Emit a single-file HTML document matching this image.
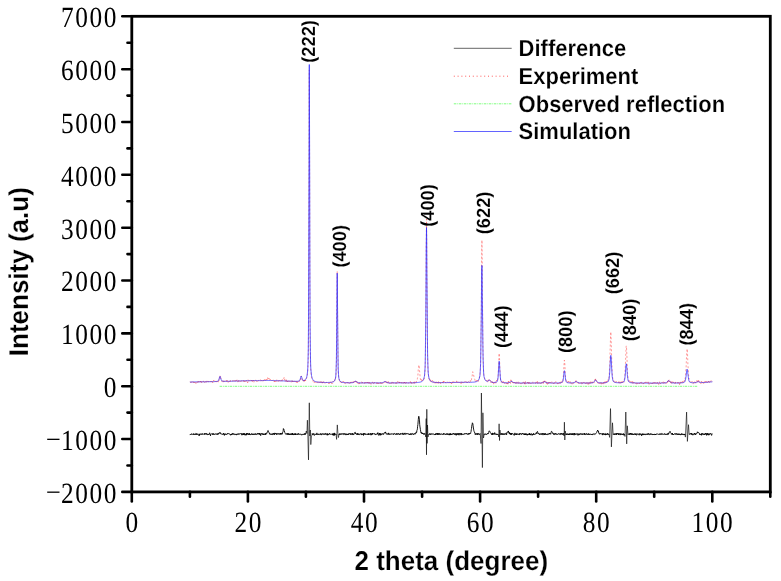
<!DOCTYPE html>
<html><head><meta charset="utf-8"><style>
html,body{margin:0;padding:0;background:#fff;}
svg{display:block;will-change:transform;text-rendering:geometricPrecision;}
.ser{font-family:"Liberation Serif",serif;font-size:29.3px;letter-spacing:1.8px;fill:#000;}
.sb{font-family:"Liberation Sans",sans-serif;font-weight:bold;fill:#000;}
</style></head><body>
<svg width="781" height="581" viewBox="0 0 781 581">
<rect width="781" height="581" fill="#fff"/>
<line x1="219.6" y1="386.3" x2="698" y2="386.3" stroke="#00ff00" stroke-width="1" stroke-dasharray="2.6 0.9 0.8 0.7" opacity="0.5"/>
<g fill="none" stroke="#000" stroke-width="0.9" stroke-linejoin="round"><polyline points="189.9,434.7 190.1,434.6 190.3,434.1 190.5,434.3 190.8,434.7 191.0,434.0 191.2,434.3 191.5,433.7 191.7,434.2 191.9,434.3 192.2,434.1 192.4,434.3 192.6,434.5 192.9,434.4 193.1,433.8 193.3,433.9 193.6,433.6 193.8,435.0 194.0,434.4 194.3,434.4 194.5,434.1 194.7,434.4 195.0,434.4 195.2,433.8 195.4,434.1 195.7,434.7 195.9,433.5 196.1,433.7 196.4,434.4 196.6,433.8 196.8,434.5 197.0,433.6 197.3,434.3 197.5,434.6 197.7,434.4 198.0,434.5 198.2,434.1 198.4,434.1 198.7,434.2 198.9,434.4 199.1,435.9 199.4,434.1 199.6,435.1 199.8,434.1 200.1,433.6 200.3,434.0 200.5,434.4 200.8,434.3 201.0,434.2 201.2,434.4 201.5,434.5 201.7,434.6 201.9,433.6 202.2,434.2 202.4,433.7 202.6,434.3 202.9,434.1 203.1,434.3 203.3,434.0 203.5,433.8 203.8,434.1 204.0,434.5 204.2,434.5 204.5,433.4 204.7,434.3 204.9,434.3 205.2,433.5 205.4,433.7 205.6,433.9 205.9,434.4 206.1,433.1 206.3,434.0 206.6,433.9 206.8,434.3 207.0,434.8 207.3,434.8 207.5,434.0 207.7,434.0 208.0,434.3 208.2,434.7 208.4,434.9 208.7,434.3 208.9,434.9 209.1,433.7 209.4,433.6 209.6,432.8 209.8,433.8 210.1,434.5 210.3,434.6 210.5,435.8 210.7,434.5 211.0,434.3 211.2,433.7 211.4,433.9 211.7,433.9 211.9,434.1 212.1,433.9 212.4,433.5 212.6,434.7 212.8,434.4 213.1,434.8 213.3,433.4 213.5,433.5 213.8,433.8 214.0,434.7 214.2,434.1 214.5,434.3 214.7,434.1 214.9,434.2 215.2,433.9 215.4,434.3 215.6,433.7 215.9,434.0 216.1,434.3 216.3,434.2 216.6,434.3 216.8,433.7 217.0,434.2 217.2,433.9 217.5,434.2 217.7,434.7 217.9,433.5 218.2,434.3 218.4,433.3 218.6,433.2 218.9,433.9 219.1,433.3 219.3,432.8 219.6,432.9 219.8,433.1 220.0,432.4 220.0,432.9 220.3,432.9 220.5,433.6 220.7,433.5 221.0,434.1 221.2,433.9 221.4,433.7 221.7,434.0 221.9,434.3 222.1,434.6 222.4,434.0 222.6,433.9 222.8,434.2 223.1,434.5 223.3,433.9 223.5,433.0 223.8,434.3 224.0,434.0 224.2,434.0 224.4,435.4 224.7,434.1 224.9,434.5 225.1,433.5 225.4,434.3 225.6,434.5 225.8,434.3 226.1,434.1 226.3,434.4 226.5,434.2 226.8,434.8 227.0,434.3 227.2,433.8 227.5,433.2 227.7,433.8 227.9,434.0 228.2,433.6 228.4,433.7 228.6,433.4 228.9,433.7 229.1,434.2 229.3,434.0 229.6,434.1 229.8,434.0 230.0,434.1 230.3,434.5 230.5,435.2 230.7,434.5 230.9,435.1 231.2,434.1 231.4,434.2 231.6,435.0 231.9,433.8 232.1,433.8 232.3,434.1 232.6,433.4 232.8,433.3 233.0,434.7 233.3,433.7 233.5,434.0 233.7,434.0 234.0,433.7 234.2,434.5 234.4,434.5 234.7,434.6 234.9,434.5 235.1,434.2 235.4,434.9 235.6,434.7 235.8,433.9 236.1,434.2 236.3,434.0 236.5,435.1 236.8,434.5 237.0,434.4 237.2,434.2 237.5,434.5 237.7,433.7 237.9,434.2 238.1,434.2 238.4,434.2 238.6,433.8 238.8,434.4 239.1,433.6 239.3,434.0 239.5,434.1 239.8,434.2 240.0,433.9 240.2,433.7 240.5,433.7 240.7,434.0 240.9,433.8 241.2,434.1 241.4,433.6 241.6,434.2 241.9,435.2 242.1,433.5 242.3,434.1 242.6,434.7 242.8,434.3 243.0,434.6 243.3,433.2 243.5,433.9 243.7,434.9 244.0,433.9 244.2,434.4 244.4,433.3 244.6,434.7 244.9,435.2 245.1,434.1 245.3,434.3 245.6,434.4 245.8,435.2 246.0,434.0 246.3,433.4 246.5,435.1 246.7,433.6 247.0,434.4 247.2,433.1 247.4,434.0 247.7,434.3 247.9,433.6 248.1,433.9 248.4,434.5 248.6,433.8 248.8,434.4 249.1,435.0 249.3,433.2 249.5,434.3 249.8,434.5 250.0,434.0 250.2,434.9 250.5,434.8 250.7,434.4 250.9,434.4 251.2,434.1 251.4,433.6 251.6,434.4 251.8,433.9 252.1,433.9 252.3,434.7 252.5,434.1 252.8,434.6 253.0,433.7 253.2,434.0 253.5,434.2 253.7,434.8 253.9,434.1 254.2,434.5 254.4,433.8 254.6,434.2 254.9,434.6 255.1,433.7 255.3,433.8 255.6,434.4 255.8,433.6 256.0,434.3 256.3,434.3 256.5,434.1 256.7,434.5 257.0,434.4 257.2,434.2 257.4,433.4 257.7,433.5 257.9,434.3 258.1,433.4 258.3,434.2 258.6,434.0 258.8,433.7 259.0,434.0 259.3,433.0 259.5,434.0 259.7,434.7 260.0,433.5 260.2,434.4 260.4,434.3 260.7,435.6 260.9,433.7 261.1,433.8 261.4,433.8 261.6,433.7 261.8,433.3 262.1,434.2 262.3,433.7 262.5,434.5 262.8,434.3 263.0,433.6 263.2,433.9 263.5,434.8 263.7,433.9 263.9,434.2 264.2,434.5 264.4,433.9 264.6,434.3 264.9,434.8 265.1,434.6 265.3,433.2 265.5,434.7 265.8,433.8 266.0,433.6 266.2,433.5 266.5,434.2 266.7,433.5 266.9,432.9 267.2,432.1 267.4,432.2 267.6,431.9 267.9,430.6 268.1,430.5 268.3,431.2 268.6,432.1 268.8,432.2 269.0,432.8 269.3,432.9 269.5,434.1 269.7,433.7 270.0,433.9 270.2,434.5 270.4,433.9 270.7,434.0 270.9,434.2 271.1,433.9 271.4,434.7 271.6,434.1 271.8,433.9 272.0,434.0 272.3,433.6 272.5,434.7 272.7,434.8 273.0,434.0 273.2,433.9 273.4,433.1 273.7,433.8 273.9,434.5 274.1,433.7 274.4,434.5 274.6,434.8 274.8,432.9 275.1,434.0 275.3,433.8 275.5,433.9 275.8,433.3 276.0,434.0 276.2,433.6 276.5,434.6 276.7,434.8 276.9,433.4 277.2,433.4 277.4,433.9 277.6,434.0 277.9,434.0 278.1,434.4 278.3,433.4 278.6,433.8 278.8,433.9 279.0,433.9 279.2,433.6 279.5,433.8 279.7,433.7 279.9,434.6 280.2,433.8 280.4,433.0 280.6,434.3 280.9,434.0 281.1,433.5 281.3,433.4 281.6,433.5 281.8,434.5 282.0,433.3 282.3,433.9 282.5,433.3 282.7,432.2 283.0,431.9 283.2,430.5 283.4,428.6 283.7,429.2 283.9,429.2 284.1,430.4 284.4,431.0 284.6,432.1 284.8,432.5 285.1,433.4 285.3,433.6 285.5,433.6 285.7,434.2 286.0,434.5 286.2,434.5 286.4,433.7 286.7,433.9 286.9,433.5 287.1,433.5 287.4,434.2 287.6,433.7 287.8,434.8 288.1,433.0 288.3,433.5 288.5,434.2 288.8,434.7 289.0,433.9 289.2,435.0 289.5,434.5 289.7,433.8 289.9,434.1 290.2,434.4 290.4,433.7 290.6,434.6 290.9,434.0 291.1,434.4 291.3,434.5 291.6,433.9 291.8,434.6 292.0,433.2 292.3,434.4 292.5,433.2 292.7,434.7 292.9,433.9 293.2,434.7 293.4,434.8 293.6,434.1 293.9,433.8 294.1,434.8 294.3,433.6 294.6,434.5 294.8,434.1 295.0,434.0 295.3,433.9 295.5,435.0 295.7,433.4 296.0,433.9 296.2,434.4 296.4,434.7 296.7,435.0 296.9,434.8 297.1,433.9 297.4,434.3 297.6,434.7 297.8,434.4 298.1,433.4 298.3,434.3 298.5,434.4 298.8,433.5 299.0,433.9 299.2,434.1 299.4,434.5 299.7,434.9 299.9,434.7 300.1,434.4 300.4,434.3 300.6,434.0 300.8,433.9 301.1,434.1 301.2,434.1 301.3,434.6 301.5,435.2 301.8,434.4 302.0,434.6 302.2,434.5 302.5,434.3 302.7,434.8 302.9,434.7 303.2,434.2 303.4,434.1 303.6,434.5 303.9,433.9 304.1,434.3 304.3,434.7 304.6,434.2 304.8,433.3 305.0,434.5 305.3,433.6 305.5,433.5"/><polyline points="312.2,434.5 312.2,433.7 312.5,434.5 312.7,434.2 312.9,433.7 313.1,434.5 313.4,434.5 313.6,433.8 313.8,433.4 314.1,434.7 314.3,435.4 314.5,434.9 314.8,434.7 315.0,434.2 315.2,433.9 315.5,434.2 315.7,434.5 315.9,434.1 316.2,434.6 316.4,434.2 316.6,434.5 316.9,432.9 317.1,433.8 317.3,434.6 317.6,434.6 317.8,434.4 318.0,435.0 318.3,434.5 318.5,434.5 318.7,433.8 319.0,434.4 319.2,434.6 319.4,434.8 319.6,434.7 319.9,434.2 320.1,434.3 320.3,433.6 320.6,434.5 320.8,433.7 321.0,434.1 321.3,434.2 321.5,435.1 321.7,434.8 322.0,433.8 322.2,433.5 322.4,434.1 322.7,433.8 322.9,434.4 323.1,434.4 323.4,434.5 323.6,433.7 323.8,434.0 324.1,434.3 324.3,434.3 324.5,433.9 324.8,434.0 325.0,434.6 325.2,433.4 325.5,434.1 325.7,434.2 325.9,433.5 326.2,433.7 326.4,434.2 326.6,433.9 326.8,434.7 327.1,434.5 327.3,435.2 327.5,433.6 327.8,435.1 328.0,433.9 328.2,434.6 328.5,434.6 328.7,434.3 328.9,434.0 329.2,433.9 329.4,433.3 329.6,434.0 329.9,433.8 330.1,434.5 330.3,433.8 330.6,434.1 330.8,434.4 331.0,434.2 331.3,434.2 331.5,434.1 331.7,434.0 332.0,434.4 332.2,434.5 332.4,433.8 332.7,435.0 332.9,434.5 333.1,433.4 333.3,435.5 333.6,434.5 333.8,433.8 334.0,435.0 334.3,432.9 334.5,435.4 334.7,433.5 335.0,433.4 335.2,433.7 335.4,434.3 335.7,434.0 335.9,434.6"/><polyline points="339.0,434.6 339.2,434.1 339.4,434.5 339.6,433.7 339.9,434.5 340.1,433.7 340.3,434.2 340.5,433.8 340.8,434.4 341.0,434.4 341.2,434.7 341.5,433.9 341.7,433.7 341.9,433.2 342.2,433.6 342.4,434.1 342.6,434.3 342.9,434.0 343.1,434.2 343.3,433.5 343.6,433.7 343.8,434.6 344.0,434.5 344.3,433.5 344.5,434.0 344.7,434.3 345.0,433.6 345.2,434.4 345.4,434.3 345.7,434.4 345.9,435.1 346.1,433.8 346.4,434.7 346.6,434.4 346.8,434.5 347.0,433.8 347.3,434.2 347.5,434.2 347.7,435.0 348.0,434.2 348.2,434.9 348.4,434.0 348.7,434.0 348.9,434.2 349.1,433.2 349.4,433.9 349.6,433.9 349.8,434.1 350.1,434.2 350.3,433.7 350.5,433.6 350.8,434.8 351.0,433.6 351.2,433.9 351.5,433.7 351.7,433.9 351.9,434.7 352.2,434.7 352.4,433.2 352.6,433.9 352.9,434.7 353.1,433.8 353.3,434.1 353.6,434.7 353.8,434.8 354.0,434.2 354.2,433.1 354.5,432.9 354.7,432.7 354.9,432.3 355.2,432.2 355.4,433.7 355.5,433.0 355.6,433.4 355.9,433.9 356.1,433.8 356.3,433.8 356.6,434.0 356.8,434.7 357.0,434.3 357.3,433.1 357.5,434.6 357.7,434.9 358.0,434.0 358.2,433.8 358.4,433.9 358.7,434.7 358.9,433.7 359.1,434.5 359.4,434.7 359.6,434.4 359.8,434.2 360.1,433.8 360.3,433.9 360.5,434.2 360.7,433.7 361.0,434.1 361.2,433.7 361.4,434.8 361.7,434.9 361.9,433.8 362.1,434.8 362.4,434.3 362.6,434.2 362.8,434.4 363.1,434.4 363.3,433.5 363.5,435.4 363.8,433.7 364.0,433.1 364.2,434.2 364.5,434.2 364.7,433.8 364.9,433.3 365.2,434.7 365.4,434.1 365.6,434.3 365.9,433.9 366.1,434.1 366.3,433.9 366.6,434.4 366.8,434.1 367.0,434.5 367.3,434.5 367.5,434.2 367.7,434.2 367.9,434.7 368.2,433.4 368.4,434.2 368.6,434.8 368.9,433.6 369.1,434.5 369.3,433.9 369.6,434.2 369.8,434.0 370.0,434.1 370.3,434.4 370.5,434.1 370.7,433.2 371.0,435.2 371.2,434.1 371.4,434.0 371.7,434.7 371.9,434.8 372.1,433.1 372.4,434.3 372.6,433.2 372.8,433.9 373.1,434.1 373.3,433.9 373.5,433.9 373.8,433.6 374.0,434.0 374.2,434.1 374.4,434.1 374.7,433.5 374.9,433.8 375.1,434.6 375.4,434.5 375.6,434.0 375.8,434.5 376.1,434.3 376.3,434.6 376.5,434.3 376.8,434.0 377.0,433.7 377.2,434.2 377.5,433.2 377.7,434.2 377.9,432.6 378.2,433.7 378.4,433.9 378.6,434.4 378.9,435.5 379.1,434.2 379.3,434.1 379.6,433.2 379.8,434.8 380.0,433.2 380.3,434.3 380.5,433.8 380.7,435.3 381.0,434.1 381.2,434.3 381.4,433.8 381.6,434.1 381.9,434.7 382.1,433.6 382.3,433.8 382.6,433.8 382.8,433.6 383.0,433.5 383.3,434.0 383.5,434.5 383.7,434.4 384.0,432.9 384.2,432.9 384.4,432.9 384.7,432.9 384.9,432.5 385.0,432.5 385.1,432.7 385.4,433.0 385.6,431.9 385.8,433.2 386.1,433.8 386.3,434.3 386.5,434.2 386.8,433.6 387.0,433.6 387.2,434.1 387.5,434.0 387.7,434.2 387.9,434.6 388.1,433.5 388.4,433.9 388.6,432.9 388.8,434.5 389.1,434.2 389.3,433.7 389.5,434.3 389.8,434.8 390.0,434.6 390.2,434.1 390.5,434.0 390.7,434.2 390.9,433.7 391.2,433.7 391.4,434.0 391.6,434.1 391.9,434.3 392.1,433.9 392.3,433.7 392.6,434.1 392.8,433.9 393.0,434.3 393.3,434.8 393.5,434.6 393.7,433.8 394.0,433.9 394.2,433.4 394.4,434.1 394.7,433.7 394.9,433.5 395.1,433.7 395.3,434.4 395.6,434.2 395.8,434.1 396.0,434.6 396.3,433.9 396.5,433.7 396.7,434.4 397.0,433.2 397.2,434.3 397.4,434.2 397.7,434.3 397.9,434.5 398.1,434.0 398.4,434.1 398.6,433.4 398.8,433.9 399.1,433.9 399.3,434.3 399.5,434.8 399.8,434.2 400.0,434.6 400.2,433.7 400.5,434.2 400.7,433.4 400.9,433.8 401.2,433.7 401.4,434.0 401.6,434.0 401.8,433.8 402.1,433.7 402.3,434.5 402.5,433.9 402.8,432.9 403.0,434.2 403.2,434.3 403.5,434.5 403.7,434.8 403.9,433.6 404.2,434.1 404.4,434.0 404.6,433.3 404.9,432.9 405.1,434.5 405.3,433.6 405.6,433.8 405.8,433.9 406.0,433.9 406.3,434.1 406.5,433.4 406.7,433.8 407.0,433.9 407.2,433.5 407.4,433.7 407.7,433.9 407.9,433.9 408.1,433.3 408.4,433.8 408.6,434.1 408.8,434.5 409.0,434.2 409.3,434.6 409.5,434.0 409.7,433.9 410.0,435.0 410.2,434.0 410.4,433.7 410.7,434.0 410.9,434.5 411.1,433.4 411.4,434.3 411.6,434.6 411.8,434.5 412.1,434.0 412.3,433.5 412.5,433.4 412.8,433.8 413.0,434.5 413.2,434.2 413.5,434.3 413.7,433.9 413.9,434.6 414.2,433.7 414.4,433.4 414.6,433.7 414.9,433.4 415.1,434.0 415.3,434.2 415.5,433.7 415.8,432.7 416.0,432.6 416.2,433.1 416.5,431.9 416.7,432.1 416.9,430.5 417.2,429.9 417.4,428.8 417.6,426.3 417.9,424.6 418.1,422.0 418.3,419.6 418.6,416.8 418.8,416.2 419.0,417.0 419.3,419.1 419.5,420.9 419.7,424.4 420.0,427.0 420.2,428.0 420.4,429.4 420.7,431.1 420.9,432.8 421.1,432.8 421.4,432.5 421.6,433.1 421.8,432.5 422.1,434.0 422.3,433.1 422.5,433.8 422.7,433.0 423.0,433.7 423.2,433.2 423.4,434.1 423.7,434.5 423.9,434.4 424.1,434.1 424.4,434.4 424.6,433.3 424.8,433.3 425.1,433.8"/><polyline points="428.6,434.5 428.8,434.5 429.0,434.2 429.2,434.4 429.5,434.3 429.7,433.8 429.9,433.3 430.2,434.9 430.4,434.1 430.6,434.1 430.9,434.2 431.1,434.2 431.3,434.3 431.6,433.6 431.8,434.3 432.0,434.2 432.3,434.1 432.5,434.1 432.7,434.2 433.0,433.7 433.2,434.1 433.4,434.0 433.7,434.2 433.9,434.6 434.1,434.5 434.4,434.6 434.6,434.0 434.8,434.5 435.1,434.6 435.3,434.0 435.5,433.9 435.7,435.0 436.0,433.3 436.2,434.1 436.4,434.2 436.7,433.6 436.9,434.1 437.1,434.4 437.4,433.1 437.6,434.7 437.8,434.2 438.1,433.7 438.3,434.7 438.5,434.2 438.8,434.0 439.0,433.0 439.2,434.6 439.5,434.2 439.7,433.8 439.9,434.1 440.2,434.7 440.4,434.0 440.6,434.1 440.9,433.9 441.1,433.6 441.3,433.7 441.6,434.0 441.8,434.0 442.0,434.7 442.3,434.2 442.5,434.0 442.7,434.3 442.9,434.1 443.2,434.5 443.4,433.4 443.6,433.1 443.9,434.3 444.1,434.0 444.3,434.3 444.6,433.6 444.8,433.9 445.0,434.1 445.3,434.3 445.5,434.1 445.7,434.6 446.0,433.8 446.2,434.5 446.4,433.9 446.7,434.1 446.9,433.6 447.1,434.2 447.4,433.7 447.6,434.6 447.8,433.9 448.1,434.3 448.3,434.1 448.5,434.1 448.8,433.7 449.0,435.1 449.2,434.0 449.4,434.9 449.7,433.6 449.9,435.1 450.1,434.6 450.4,435.0 450.6,433.4 450.8,434.8 451.1,434.1 451.3,434.4 451.5,435.0 451.8,434.3 452.0,433.8 452.2,434.2 452.5,433.7 452.7,434.3 452.9,434.2 453.2,434.3 453.4,434.0 453.6,433.2 453.9,434.0 454.1,434.1 454.3,434.4 454.6,434.5 454.8,433.5 455.0,434.7 455.3,434.6 455.5,434.2 455.7,434.4 456.0,433.2 456.2,435.3 456.4,434.0 456.6,433.8 456.9,434.7 457.1,434.5 457.3,433.9 457.6,433.4 457.8,434.6 458.0,434.9 458.3,433.7 458.5,433.4 458.7,434.3 459.0,435.2 459.2,433.4 459.4,434.2 459.7,433.6 459.9,434.2 460.1,434.3 460.4,434.3 460.6,433.4 460.8,433.4 461.1,435.1 461.3,434.6 461.5,433.3 461.8,434.3 462.0,434.8 462.2,434.1 462.5,434.2 462.7,434.2 462.9,434.3 463.1,434.3 463.4,434.3 463.6,433.9 463.8,434.5 464.1,434.2 464.3,434.2 464.5,433.5 464.8,433.9 465.0,434.1 465.2,433.8 465.5,433.9 465.7,433.5 465.9,433.8 466.2,433.2 466.4,433.4 466.6,434.0 466.9,434.2 467.1,433.6 467.3,433.7 467.6,434.0 467.8,434.6 468.0,434.8 468.3,433.7 468.5,433.5 468.7,433.4 469.0,434.4 469.2,433.2 469.4,433.9 469.7,433.3 469.9,433.2 470.1,433.6 470.3,433.2 470.6,433.5 470.8,432.3 471.0,431.8 471.3,429.6 471.5,428.4 471.7,426.3 472.0,424.9 472.2,424.0 472.4,422.8 472.7,423.4 472.9,424.0 473.1,425.7 473.4,428.0 473.6,429.1 473.8,430.4 474.1,431.6 474.3,431.7 474.5,431.9 474.8,433.2 475.0,433.5 475.2,434.5 475.5,433.6 475.7,433.9 475.9,434.7 476.2,433.6 476.4,433.5 476.6,434.2 476.8,434.1 477.1,434.4 477.3,433.6 477.5,434.7 477.8,434.1 478.0,433.1 478.2,434.0 478.5,433.8 478.7,434.1 478.9,434.6 479.2,434.1 479.4,433.9 479.6,434.5 479.9,433.9 480.1,433.5"/><polyline points="484.2,434.5 484.3,434.0 484.5,434.2 484.7,434.3 485.0,434.4 485.2,433.7 485.4,434.1 485.7,434.0 485.9,434.5 486.1,434.3 486.4,434.0 486.6,434.5 486.8,434.6 487.1,434.1 487.3,433.4 487.5,433.8 487.8,433.1 488.0,433.6 488.2,433.5 488.5,433.6 488.7,432.8 488.9,431.3 489.2,431.4 489.4,430.8 489.4,430.9 489.6,431.2 489.9,431.6 490.1,432.0 490.3,432.2 490.5,432.8 490.8,433.1 491.0,433.5 491.2,434.1 491.5,434.0 491.7,434.4 491.9,433.5 492.2,435.0 492.4,434.1 492.6,432.9 492.9,434.2 493.1,434.6 493.3,434.1 493.6,433.5 493.8,434.2 494.0,433.8 494.3,434.1 494.5,434.3 494.7,432.6 495.0,434.1 495.2,434.4 495.4,434.4 495.7,433.9 495.9,433.9 496.1,433.8 496.4,434.1 496.6,434.8 496.8,433.9 497.1,434.3 497.3,434.3 497.5,434.8 497.7,434.4 498.0,434.5 498.2,434.2"/><polyline points="500.5,434.5 500.5,434.3 500.8,433.7 501.0,434.4 501.2,434.1 501.5,434.5 501.7,433.2 501.9,433.7 502.2,433.6 502.4,434.8 502.6,434.6 502.9,433.6 503.1,434.2 503.3,434.2 503.6,434.0 503.8,434.7 504.0,433.7 504.2,434.1 504.5,433.9 504.7,434.4 504.9,433.8 505.2,434.4 505.4,433.6 505.6,433.4 505.9,433.5 506.1,433.6 506.3,433.4 506.6,434.8 506.8,432.8 507.0,433.0 507.3,432.3 507.5,432.0 507.7,432.1 508.0,431.4 508.2,431.0 508.4,431.0 508.7,432.5 508.9,433.1 509.1,432.4 509.4,433.9 509.6,432.7 509.8,433.8 510.1,434.3 510.3,433.5 510.5,433.2 510.8,434.7 511.0,433.3 511.2,434.2 511.4,433.4 511.5,434.3 511.7,434.8 511.9,433.9 512.1,433.7 512.4,433.1 512.6,433.3 512.8,433.8 513.1,434.2 513.3,434.4 513.5,434.3 513.8,434.5 514.0,434.3 514.2,435.4 514.5,434.1 514.7,434.2 514.9,432.9 515.2,433.8 515.4,434.4 515.6,433.9 515.9,434.7 516.1,434.4 516.3,435.0 516.6,433.5 516.8,433.9 517.0,434.7 517.3,434.2 517.5,433.7 517.7,433.9 517.9,434.0 518.2,434.6 518.4,434.5 518.6,434.1 518.9,433.7 519.1,434.6 519.3,434.7 519.6,433.6 519.8,434.6 520.0,433.6 520.3,434.0 520.5,433.7 520.7,433.3 521.0,433.8 521.2,433.8 521.4,434.6 521.7,434.5 521.9,433.9 522.1,433.4 522.4,433.5 522.6,433.1 522.8,434.0 523.1,434.1 523.3,433.7 523.5,434.2 523.8,434.2 524.0,434.7 524.2,433.7 524.5,434.7 524.7,433.9 524.9,434.8 525.1,433.6 525.4,434.7 525.6,433.8 525.8,434.9 526.1,434.4 526.3,433.6 526.5,434.5 526.8,434.1 527.0,434.4 527.2,435.3 527.5,434.0 527.7,434.0 527.9,434.7 528.2,433.9 528.4,434.5 528.6,434.6 528.9,434.2 529.1,434.5 529.3,433.1 529.6,434.9 529.8,433.8 530.0,433.7 530.3,435.1 530.5,435.0 530.7,433.9 531.0,434.4 531.2,434.0 531.4,433.6 531.6,434.3 531.9,434.6 532.1,435.4 532.3,434.0 532.6,434.6 532.8,434.0 533.0,434.0 533.3,434.8 533.5,433.3 533.7,433.6 534.0,433.7 534.2,434.6 534.4,434.3 534.7,434.3 534.9,434.2 535.1,434.5 535.4,433.7 535.6,433.7 535.8,433.5 536.1,433.7 536.3,432.6 536.5,432.7 536.8,433.7 537.0,432.3 537.2,431.8 537.5,431.4 537.7,432.3 537.9,432.6 538.1,433.3 538.4,433.0 538.6,433.8 538.8,434.0 539.1,434.2 539.3,433.7 539.5,434.3 539.8,434.8 540.0,433.8 540.2,434.4 540.5,433.9 540.7,433.9 540.9,433.5 541.2,433.6 541.4,434.4 541.6,434.2 541.9,434.7 542.1,433.3 542.3,433.9 542.6,433.5 542.8,434.3 543.0,435.1 543.3,433.4 543.5,434.1 543.7,434.1 544.0,434.1 544.2,433.8 544.4,433.9 544.6,434.9 544.7,433.6 544.9,434.4 545.1,434.4 545.3,433.3 545.6,433.7 545.8,434.3 546.0,435.0 546.3,434.1 546.5,433.9 546.7,434.2 547.0,434.7 547.2,434.5 547.4,434.7 547.7,434.0 547.9,433.7 548.1,433.6 548.4,434.4 548.6,434.0 548.8,433.8 549.1,434.3 549.3,434.1 549.5,433.0 549.8,433.9 550.0,433.5 550.2,434.0 550.5,433.7 550.7,434.3 550.9,433.2 551.2,432.2 551.4,431.3 551.6,431.4 551.8,431.5 552.1,431.8 552.3,432.5 552.5,432.7 552.8,432.7 553.0,433.7 553.2,433.1 553.5,434.2 553.7,434.7 553.9,434.4 554.2,434.8 554.4,434.7 554.6,433.5 554.9,434.2 555.1,434.0 555.3,433.5 555.6,433.5 555.8,434.4 556.0,433.5 556.3,433.9 556.5,434.1 556.7,433.9 557.0,434.8 557.2,434.5 557.4,434.2 557.7,433.9 557.9,434.3 558.1,434.2 558.4,433.7 558.6,433.5 558.8,433.8 559.0,433.6 559.3,434.3 559.5,434.3 559.7,434.0 560.0,434.3 560.2,434.4 560.4,433.4 560.7,434.3 560.9,434.6 561.1,433.9 561.4,433.3 561.6,434.1 561.8,433.6 562.1,434.4 562.3,434.4 562.5,434.5 562.8,434.2 563.0,433.3 563.2,434.7 563.5,433.4"/><polyline points="565.8,433.8 566.0,434.7 566.2,434.4 566.5,434.8 566.7,433.7 566.9,434.3 567.2,433.9 567.4,434.5 567.6,434.4 567.9,433.6 568.1,434.6 568.3,435.0 568.6,434.0 568.8,434.7 569.0,434.4 569.3,433.7 569.5,434.6 569.7,433.8 570.0,434.5 570.2,433.5 570.4,433.5 570.7,434.4 570.9,434.3 571.1,434.6 571.4,434.1 571.6,433.6 571.8,434.9 572.1,433.7 572.3,434.8 572.5,434.6 572.7,435.0 573.0,433.2 573.2,434.1 573.4,434.1 573.7,434.5 573.9,433.7 574.1,435.2 574.4,434.2 574.6,433.1 574.8,434.4 575.1,434.2 575.3,433.9 575.5,434.6 575.8,434.2 576.0,433.7 576.2,434.1 576.2,434.0 576.5,434.3 576.7,434.0 576.9,434.1 577.2,433.5 577.4,433.8 577.6,434.3 577.9,435.3 578.1,433.8 578.3,433.8 578.6,434.6 578.8,435.1 579.0,434.7 579.2,433.7 579.5,434.7 579.7,434.4 579.9,434.1 580.2,433.6 580.4,434.2 580.6,434.2 580.9,434.4 581.1,433.4 581.3,433.7 581.6,434.2 581.8,434.8 582.0,434.5 582.3,433.9 582.5,434.5 582.7,433.7 583.0,434.0 583.2,434.0 583.4,433.9 583.7,433.9 583.9,434.6 584.1,434.3 584.4,433.1 584.6,434.7 584.8,434.4 585.1,433.7 585.3,434.2 585.5,434.6 585.8,434.8 586.0,433.9 586.2,433.7 586.4,433.5 586.7,434.1 586.9,433.7 587.1,434.7 587.4,434.1 587.6,434.5 587.8,434.1 588.1,433.8 588.3,433.7 588.5,434.6 588.8,433.6 589.0,434.4 589.2,434.6 589.5,434.2 589.7,434.8 589.9,434.1 590.2,434.0 590.4,434.2 590.6,433.9 590.9,434.3 591.1,434.1 591.3,434.8 591.6,434.1 591.8,434.5 592.0,434.3 592.3,434.2 592.5,434.0 592.7,434.9 592.9,434.9 593.2,434.2 593.4,433.9 593.6,433.9 593.9,433.7 594.1,433.4 594.3,433.8 594.6,434.0 594.8,434.5 595.0,434.4 595.3,434.1 595.5,433.7 595.6,433.7 595.7,433.7 596.0,433.6 596.2,433.0 596.4,432.8 596.7,432.3 596.9,431.6 597.1,431.3 597.4,431.0 597.6,430.0 597.8,430.3 598.1,431.1 598.3,431.9 598.5,431.3 598.8,433.3 599.0,433.4 599.2,433.4 599.5,434.3 599.7,433.8 599.9,433.1 600.1,433.5 600.4,433.7 600.6,433.7 600.8,434.0 601.1,433.6 601.3,434.1 601.5,434.3 601.8,434.0 602.0,433.7 602.2,434.0 602.5,433.8 602.7,435.1 602.9,433.6 603.2,433.0 603.4,433.5 603.6,434.3 603.9,434.5 604.1,434.0 604.3,434.6 604.6,433.8 604.8,434.4 605.0,433.7 605.3,433.5 605.5,435.1 605.7,434.0 606.0,434.5 606.2,434.8 606.4,434.5 606.6,434.3 606.9,433.7 607.1,434.9 607.3,433.7 607.6,433.2 607.8,433.9 608.0,433.9 608.3,434.2 608.5,434.7 608.7,433.9 609.0,434.0"/><polyline points="614.0,434.0 614.1,433.6 614.3,434.6 614.5,434.1 614.8,434.6 615.0,433.9 615.2,434.6 615.5,433.7 615.7,434.0 615.9,433.7 616.2,434.2 616.4,434.9 616.6,433.3 616.9,434.3 617.1,433.5 617.3,434.0 617.6,433.9 617.8,433.3 618.0,434.0 618.3,433.5 618.5,434.9 618.7,433.8 619.0,434.3 619.2,434.2 619.4,434.2 619.7,434.0 619.9,433.4 620.1,435.1 620.3,434.2 620.6,434.5 620.8,433.6 621.0,434.4 621.3,434.0 621.5,434.4 621.7,433.9 622.0,433.7 622.2,434.4 622.4,434.2 622.7,434.9 622.9,434.0 623.1,433.8 623.4,434.4 623.6,433.6 623.8,435.2 624.1,435.1 624.3,434.8"/><polyline points="628.8,434.0 628.9,433.7 629.2,433.5 629.4,434.3 629.6,434.9 629.9,434.0 630.1,433.3 630.3,433.8 630.6,434.1 630.8,433.0 631.0,434.7 631.3,433.7 631.5,434.4 631.7,434.2 632.0,434.1 632.2,433.5 632.4,434.6 632.7,434.4 632.9,434.9 633.1,433.9 633.4,434.4 633.6,434.0 633.8,434.7 634.0,434.3 634.3,433.7 634.5,434.3 634.7,433.9 635.0,433.9 635.2,434.3 635.4,434.9 635.7,433.7 635.9,434.1 636.1,433.7 636.4,435.1 636.6,435.0 636.8,435.2 637.1,434.6 637.3,433.7 637.5,433.9 637.8,434.2 638.0,434.1 638.2,433.8 638.5,434.3 638.7,434.0 638.9,434.1 639.2,435.2 639.4,434.4 639.6,433.5 639.9,434.4 640.1,434.2 640.3,434.5 640.6,434.4 640.8,433.6 641.0,434.3 641.2,434.7 641.5,435.7 641.7,434.4 641.9,435.1 642.2,435.0 642.4,433.8 642.6,433.8 642.9,435.1 643.1,433.8 643.3,434.0 643.6,434.5 643.8,433.8 644.0,434.9 644.3,434.7 644.5,434.9 644.7,434.7 645.0,433.8 645.2,434.8 645.4,434.7 645.7,434.6 645.9,434.1 646.1,434.3 646.4,433.8 646.6,434.5 646.8,434.8 647.1,434.4 647.3,434.2 647.5,434.6 647.7,434.0 648.0,433.3 648.2,434.5 648.4,434.2 648.7,433.5 648.9,434.5 649.1,434.6 649.4,434.7 649.6,434.0 649.8,433.9 650.1,434.3 650.3,434.2 650.5,433.6 650.8,433.8 651.0,434.8 651.2,434.2 651.5,434.1 651.7,433.8 651.9,434.3 652.2,434.5 652.4,434.4 652.6,435.0 652.9,434.2 653.1,434.5 653.3,434.0 653.6,434.7 653.8,434.4 654.0,434.7 654.2,434.7 654.5,433.9 654.7,434.4 654.9,434.0 655.2,434.7 655.4,434.1 655.6,435.0 655.9,434.4 656.1,434.4 656.3,433.9 656.6,434.1 656.8,434.3 657.0,433.8 657.3,434.1 657.5,433.9 657.7,433.8 658.0,434.2 658.2,434.3 658.4,434.0 658.7,434.4 658.9,434.0 659.1,433.7 659.4,433.8 659.6,434.4 659.8,434.8 660.1,434.2 660.3,434.2 660.5,433.7 660.8,434.4 661.0,434.3 661.2,433.8 661.4,434.4 661.7,434.3 661.9,433.4 662.1,433.5 662.4,433.9 662.6,434.1 662.8,434.6 663.1,433.9 663.3,434.2 663.5,434.1 663.8,434.4 664.0,434.2 664.2,434.3 664.5,434.0 664.7,433.5 664.9,434.0 665.2,434.9 665.4,434.6 665.6,434.9 665.9,434.5 666.1,433.9 666.3,433.9 666.6,434.4 666.8,434.0 667.0,434.5 667.3,434.8 667.5,434.7 667.7,434.4 667.9,433.3 668.2,434.5 668.4,433.1 668.6,432.9 668.7,433.6 668.9,433.3 669.1,433.2 669.3,432.5 669.6,431.7 669.8,431.8 670.0,431.4 670.3,431.6 670.5,432.4 670.7,432.8 671.0,433.3 671.2,433.4 671.4,434.3 671.7,433.7 671.9,433.9 672.1,434.4 672.4,433.0 672.6,434.5 672.8,434.5 673.1,434.0 673.3,435.0 673.5,434.5 673.8,434.9 674.0,434.6 674.2,434.2 674.5,434.0 674.7,433.6 674.9,433.8 675.1,433.6 675.4,433.9 675.6,434.4 675.8,433.6 676.1,434.4 676.3,434.5 676.5,433.5 676.8,433.8 677.0,434.1 677.2,433.8 677.5,433.8 677.7,434.8 677.9,434.2 678.2,434.7 678.4,434.1 678.6,434.5 678.9,433.5 679.1,433.9 679.3,434.6 679.6,434.2 679.8,434.8 680.0,434.2 680.3,433.9 680.5,434.1 680.7,435.1 681.0,434.4 681.2,434.0 681.4,434.0 681.6,433.6 681.9,434.8 682.1,433.9 682.3,434.5 682.6,434.1 682.8,434.0 683.0,433.9 683.3,434.5 683.5,434.1 683.7,434.8 684.0,434.9 684.2,433.9 684.4,434.2 684.7,435.0"/><polyline points="689.8,434.3 690.0,434.0 690.2,433.3 690.5,433.9 690.7,434.2 690.9,433.6 691.2,434.3 691.4,434.4 691.6,433.1 691.9,434.6 692.1,434.4 692.3,434.2 692.6,434.7 692.8,435.2 693.0,433.7 693.3,434.5 693.5,434.4 693.7,434.3 694.0,434.6 694.2,434.6 694.4,434.1 694.7,433.0 694.9,433.8 695.1,433.7 695.3,434.8 695.6,434.0 695.8,434.5 696.0,433.5 696.3,433.9 696.5,433.5 696.7,433.3 697.0,433.2 697.2,433.2 697.4,431.8 697.7,432.5 697.9,432.4 698.1,432.2 698.2,432.5 698.4,432.3 698.6,432.4 698.8,433.1 699.1,433.4 699.3,433.7 699.5,433.5 699.8,434.8 700.0,433.9 700.2,434.5 700.5,434.7 700.7,434.1 700.9,434.3 701.2,433.9 701.4,433.6 701.6,435.3 701.9,434.2 702.1,433.2 702.3,433.7 702.5,433.5 702.8,434.1 703.0,434.9 703.2,434.7 703.5,433.8 703.7,433.7 703.9,434.5 704.2,434.3 704.4,434.1 704.6,435.0 704.9,434.4 705.1,433.4 705.3,433.2 705.6,434.2 705.8,433.3 706.0,434.4 706.3,434.6 706.5,435.3 706.7,433.7 707.0,434.4 707.2,433.1 707.4,434.0 707.7,434.1 707.9,435.1 708.1,433.5 708.4,434.4 708.6,434.3 708.8,435.2 709.0,433.8 709.3,433.7 709.5,434.5 709.7,434.2 710.0,434.0 710.2,433.7 710.4,434.1 710.7,433.4 710.9,434.3 711.1,434.5 711.4,434.4 711.6,435.4 711.8,434.6 712.1,433.7 712.3,434.1"/></g>
<g fill="none" stroke="#000" stroke-width="0.6" stroke-linejoin="round"><polyline points="305.5,433.5 305.5,434.5 306.3,431.0 306.9,433.5 307.4,420.2 307.9,438.0 308.5,459.9 309.3,402.8 309.8,436.0 310.3,430.0 310.8,444.6 311.5,436.0 312.2,434.5 312.2,433.7"/><polyline points="335.9,434.6 336.0,434.0 336.6,439.4 337.3,424.9 337.9,433.0 338.4,437.6 339.0,434.6 339.2,434.1"/><polyline points="425.1,433.8 425.3,434.5 425.8,437.0 426.2,418.6 426.5,454.8 426.8,409.3 427.1,443.4 427.5,425.0 428.0,437.0 428.6,434.5 428.8,434.5"/><polyline points="480.1,433.5 480.3,434.5 481.0,443.5 481.4,393.0 482.4,467.6 482.9,412.8 483.5,438.0 484.2,434.5 484.3,434.0"/><polyline points="498.2,434.2 498.3,434.5 498.8,437.0 499.1,423.8 499.5,440.5 499.9,430.0 500.5,434.5 500.5,434.3"/><polyline points="563.5,433.4 563.6,434.0 564.1,436.0 564.4,422.2 564.8,440.0 565.2,431.0 565.8,433.8 566.0,434.7"/><polyline points="609.0,434.0 609.0,434.0 609.6,437.4 610.5,408.6 611.4,446.9 612.5,422.8 613.2,435.0 614.0,434.0 614.1,433.6"/><polyline points="624.3,434.8 624.4,434.0 625.0,436.5 625.8,412.0 626.7,443.9 627.3,425.8 628.0,435.0 628.8,434.0 628.9,433.7"/><polyline points="684.7,435.0 684.8,434.0 685.4,437.1 686.6,412.1 687.4,441.4 688.5,424.7 689.2,434.5 689.8,434.3 690.0,434.0"/></g>
<polyline fill="none" stroke="#ff2020" stroke-width="1" stroke-dasharray="2 2" stroke-opacity="0.45" points="189.9,382.0 190.1,381.8 190.3,382.2 190.5,382.5 190.8,382.3 191.0,382.6 191.2,381.9 191.5,381.1 191.7,382.3 191.9,382.4 192.2,381.7 192.4,381.7 192.6,381.9 192.9,382.5 193.1,382.0 193.3,381.5 193.6,382.8 193.8,382.2 194.0,383.1 194.3,382.7 194.5,383.1 194.7,382.1 195.0,382.7 195.2,381.7 195.4,381.8 195.7,382.0 195.9,383.5 196.1,382.2 196.4,381.9 196.6,381.8 196.8,382.9 197.0,382.2 197.3,382.5 197.5,382.4 197.7,381.2 198.0,382.4 198.2,381.9 198.4,381.3 198.7,382.2 198.9,381.9 199.1,381.8 199.4,381.8 199.6,382.6 199.8,381.8 200.1,381.0 200.3,382.8 200.5,381.3 200.8,381.8 201.0,382.2 201.2,380.6 201.5,381.3 201.7,382.6 201.9,381.8 202.2,381.5 202.4,381.9 202.6,381.4 202.9,381.9 203.1,381.4 203.3,380.9 203.5,382.2 203.8,381.7 204.0,382.1 204.2,381.7 204.5,382.5 204.7,382.1 204.9,381.9 205.2,381.2 205.4,381.0 205.6,382.6 205.9,382.3 206.1,381.4 206.3,383.0 206.6,382.0 206.8,381.8 207.0,380.9 207.3,381.3 207.5,381.9 207.7,382.0 208.0,381.9 208.2,380.8 208.4,382.0 208.7,381.9 208.9,381.5 209.1,381.8 209.4,381.8 209.6,382.4 209.8,381.7 210.1,382.0 210.3,381.0 210.5,381.3 210.7,381.7 211.0,381.3 211.2,381.9 211.4,381.0 211.7,381.7 211.9,381.3 212.1,382.5 212.4,381.4 212.6,382.7 212.8,382.9 213.1,381.8 213.3,382.2 213.5,381.5 213.8,380.2 214.0,382.1 214.2,382.0 214.5,381.5 214.7,381.3 214.9,381.7 215.2,381.7 215.4,381.1 215.6,381.2 215.9,382.2 216.1,381.6 216.3,381.5 216.6,382.1 216.8,381.3 217.0,382.0 217.2,380.8 217.5,381.2 217.7,381.2 217.9,381.6 218.2,381.1 218.4,382.1 218.6,381.1 218.9,379.6 219.1,380.5 219.3,377.7 219.6,378.4 219.8,376.1 220.0,376.9 220.0,375.9 220.3,376.7 220.5,378.6 220.7,377.7 221.0,378.4 221.2,380.0 221.4,380.6 221.7,380.9 221.9,381.6 222.1,380.4 222.4,381.5 222.6,381.3 222.8,381.8 223.1,381.7 223.3,382.1 223.5,380.5 223.8,381.4 224.0,380.7 224.2,381.3 224.4,381.8 224.7,381.5 224.9,381.7 225.1,381.3 225.4,381.6 225.6,381.5 225.8,382.2 226.1,381.8 226.3,380.3 226.5,381.7 226.8,382.0 227.0,381.1 227.2,380.4 227.5,382.2 227.7,381.4 227.9,381.7 228.2,382.4 228.4,380.8 228.6,381.3 228.9,381.2 229.1,381.7 229.3,381.0 229.6,381.6 229.8,381.3 230.0,381.9 230.3,382.0 230.5,380.4 230.7,381.5 230.9,381.0 231.2,381.2 231.4,381.5 231.6,381.5 231.9,380.8 232.1,381.4 232.3,381.3 232.6,381.1 232.8,380.4 233.0,380.7 233.3,380.9 233.5,381.5 233.7,382.0 234.0,380.5 234.2,380.5 234.4,381.2 234.7,380.7 234.9,380.6 235.1,380.5 235.4,380.5 235.6,381.4 235.8,380.1 236.1,381.8 236.3,380.5 236.5,380.7 236.8,380.5 237.0,379.8 237.2,380.1 237.5,381.7 237.7,382.1 237.9,380.5 238.1,381.6 238.4,381.0 238.6,380.4 238.8,382.0 239.1,382.3 239.3,380.8 239.5,380.9 239.8,381.1 240.0,380.9 240.2,381.5 240.5,381.9 240.7,381.0 240.9,381.5 241.2,381.9 241.4,380.6 241.6,380.9 241.9,380.6 242.1,381.5 242.3,381.3 242.6,381.5 242.8,381.4 243.0,380.7 243.3,381.3 243.5,380.6 243.7,380.6 244.0,379.5 244.2,381.7 244.4,380.2 244.6,380.8 244.9,380.8 245.1,381.7 245.3,381.1 245.6,380.3 245.8,380.8 246.0,380.7 246.3,380.9 246.5,380.0 246.7,380.7 247.0,382.1 247.2,381.1 247.4,381.9 247.7,382.8 247.9,381.0 248.1,379.8 248.4,380.6 248.6,381.4 248.8,381.3 249.1,380.0 249.3,380.6 249.5,380.6 249.8,380.7 250.0,380.6 250.2,380.1 250.5,380.3 250.7,380.5 250.9,381.3 251.2,380.3 251.4,381.1 251.6,380.0 251.8,381.5 252.1,380.7 252.3,380.6 252.5,381.5 252.8,379.5 253.0,379.7 253.2,380.9 253.5,380.1 253.7,380.4 253.9,382.3 254.2,380.5 254.4,380.7 254.6,380.6 254.9,381.3 255.1,380.8 255.3,380.7 255.6,379.9 255.8,380.4 256.0,380.6 256.3,379.6 256.5,380.9 256.7,380.8 257.0,381.7 257.2,379.6 257.4,380.0 257.7,380.0 257.9,380.2 258.1,380.5 258.3,380.4 258.6,380.7 258.8,380.7 259.0,380.5 259.3,379.6 259.5,380.2 259.7,380.6 260.0,380.9 260.2,381.0 260.4,379.5 260.7,380.2 260.9,380.5 261.1,380.8 261.4,381.2 261.6,380.6 261.8,380.0 262.1,380.8 262.3,380.7 262.5,380.7 262.8,380.4 263.0,381.5 263.2,380.6 263.5,381.0 263.7,379.9 263.9,381.0 264.2,380.1 264.4,379.5 264.6,380.6 264.9,380.8 265.1,380.3 265.3,380.4 265.5,380.9 265.8,380.0 266.0,378.9 266.2,380.2 266.5,380.0 266.7,380.2 266.9,379.1 267.2,379.7 267.4,379.3 267.6,377.5 267.9,378.7 268.1,377.6 268.3,377.5 268.6,378.6 268.8,378.8 269.0,378.2 269.3,379.9 269.5,380.3 269.7,380.9 270.0,380.2 270.2,379.3 270.4,379.7 270.7,380.9 270.9,380.9 271.1,380.7 271.4,380.2 271.6,380.5 271.8,380.3 272.0,380.2 272.3,380.6 272.5,380.5 272.7,380.3 273.0,380.5 273.2,380.2 273.4,379.3 273.7,380.1 273.9,380.5 274.1,381.6 274.4,380.3 274.6,381.8 274.8,381.5 275.1,380.0 275.3,380.1 275.5,380.7 275.8,381.7 276.0,380.9 276.2,381.1 276.5,380.2 276.7,379.2 276.9,380.5 277.2,381.2 277.4,381.4 277.6,380.7 277.9,380.8 278.1,381.4 278.3,380.6 278.6,381.4 278.8,380.0 279.0,380.0 279.2,380.0 279.5,381.0 279.7,380.4 279.9,380.8 280.2,381.0 280.4,380.9 280.6,381.5 280.9,381.6 281.1,380.2 281.3,380.8 281.6,380.5 281.8,379.9 282.0,381.6 282.3,380.8 282.5,379.9 282.7,379.4 283.0,379.4 283.2,378.0 283.4,377.9 283.7,378.5 283.9,378.3 284.1,377.5 284.4,378.2 284.6,380.3 284.8,378.8 285.1,379.7 285.3,379.5 285.5,380.8 285.7,380.9 286.0,381.5 286.2,379.2 286.4,381.0 286.7,379.9 286.9,381.3 287.1,380.9 287.4,382.0 287.6,381.2 287.8,380.4 288.1,381.8 288.3,380.4 288.5,380.8 288.8,381.7 289.0,381.4 289.2,381.4 289.5,381.1 289.7,381.5 289.9,381.7 290.2,381.3 290.4,381.8 290.6,382.0 290.9,381.2 291.1,380.6 291.3,382.2 291.6,381.2 291.8,381.6 292.0,381.9 292.3,380.7 292.5,381.6 292.7,380.3 292.9,381.8 293.2,381.0 293.4,381.4 293.6,381.8 293.9,380.9 294.1,381.4 294.3,380.9 294.6,381.3 294.8,382.0 295.0,381.4 295.3,381.3 295.5,380.7 295.7,381.9 296.0,381.4 296.2,382.4 296.4,380.9 296.7,382.0 296.9,382.5 297.1,381.4 297.4,380.6 297.6,382.3 297.8,382.0 298.1,381.8 298.3,382.0 298.5,381.0 298.8,381.7 299.0,381.6 299.2,380.7 299.4,381.4 299.7,380.4 299.9,380.9 300.1,380.5 300.4,380.0 300.6,376.7 300.8,377.1 301.1,376.1 301.2,376.2 301.3,376.1 301.5,376.8 301.8,376.5 302.0,379.4 302.2,380.5 302.5,380.7 302.7,381.3 302.9,380.2 303.2,380.2 303.4,381.4 303.6,381.7 303.9,381.0 304.1,379.8 304.3,382.4 304.6,380.2 304.8,381.1 305.0,379.7 305.3,380.8 305.5,380.1 305.7,380.7 305.9,380.0 306.2,378.2 306.4,378.1 306.6,378.2 306.9,377.8 307.1,377.4 307.3,375.1 307.6,372.9 307.8,370.0 308.0,365.3 308.3,356.3 308.5,331.8 308.7,276.5 309.0,179.3 309.2,82.2 309.3,70.0 309.4,93.9 309.7,196.1 309.9,287.6 310.1,337.3 310.4,357.7 310.6,366.9 310.8,370.3 311.1,373.4 311.3,375.1 311.5,376.7 311.8,378.1 312.0,379.0 312.2,379.1 312.5,379.8 312.7,379.7 312.9,380.2 313.1,381.3 313.4,380.6 313.6,381.7 313.8,381.4 314.1,381.3 314.3,382.6 314.5,381.3 314.8,381.4 315.0,381.7 315.2,381.9 315.5,381.9 315.7,382.4 315.9,382.0 316.2,382.2 316.4,381.9 316.6,382.7 316.9,381.9 317.1,382.0 317.3,382.2 317.6,382.4 317.8,381.8 318.0,383.2 318.3,381.9 318.5,382.1 318.7,382.1 319.0,382.0 319.2,382.7 319.4,382.5 319.6,381.9 319.9,382.0 320.1,382.2 320.3,383.3 320.6,382.0 320.8,381.6 321.0,381.7 321.3,382.2 321.5,383.4 321.7,381.8 322.0,382.5 322.2,384.0 322.4,382.2 322.7,383.4 322.9,383.3 323.1,382.8 323.4,381.6 323.6,382.7 323.8,382.3 324.1,381.4 324.3,381.5 324.5,382.5 324.8,382.6 325.0,383.3 325.2,382.9 325.5,382.2 325.7,382.2 325.9,382.4 326.2,381.9 326.4,383.0 326.6,382.5 326.8,382.0 327.1,382.1 327.3,381.8 327.5,382.2 327.8,382.7 328.0,382.3 328.2,383.1 328.5,383.5 328.7,382.1 328.9,382.5 329.2,382.3 329.4,383.5 329.6,382.7 329.9,382.8 330.1,383.0 330.3,383.9 330.6,382.6 330.8,381.8 331.0,382.1 331.3,382.7 331.5,382.3 331.7,381.8 332.0,384.0 332.2,382.3 332.4,381.8 332.7,381.7 332.9,381.0 333.1,381.3 333.3,381.7 333.6,381.6 333.8,381.2 334.0,381.9 334.3,381.4 334.5,380.5 334.7,379.6 335.0,380.5 335.2,379.9 335.4,378.9 335.7,377.1 335.9,376.1 336.1,371.2 336.4,363.6 336.6,343.8 336.8,312.1 337.1,278.6 337.2,271.1 337.3,276.6 337.5,306.6 337.8,339.0 338.0,361.1 338.2,372.1 338.5,375.0 338.7,377.4 338.9,378.7 339.2,380.1 339.4,379.7 339.6,381.0 339.9,380.5 340.1,382.0 340.3,382.2 340.5,381.6 340.8,382.4 341.0,381.6 341.2,381.9 341.5,382.8 341.7,382.2 341.9,382.5 342.2,381.8 342.4,382.8 342.6,382.7 342.9,381.7 343.1,381.1 343.3,381.3 343.6,382.5 343.8,382.4 344.0,381.6 344.3,382.7 344.5,383.3 344.7,382.6 345.0,382.4 345.2,383.2 345.4,383.7 345.7,383.6 345.9,382.3 346.1,383.2 346.4,382.8 346.6,382.6 346.8,382.3 347.0,383.0 347.3,382.4 347.5,383.3 347.7,383.0 348.0,383.4 348.2,382.1 348.4,382.8 348.7,383.2 348.9,383.0 349.1,382.9 349.4,382.3 349.6,383.8 349.8,383.4 350.1,383.0 350.3,381.2 350.5,382.2 350.8,382.9 351.0,382.3 351.2,381.5 351.5,382.9 351.7,383.0 351.9,382.0 352.2,382.4 352.4,382.3 352.6,383.0 352.9,381.4 353.1,381.5 353.3,382.2 353.6,382.0 353.8,383.6 354.0,381.8 354.2,382.1 354.5,381.5 354.7,381.2 354.9,381.7 355.2,382.4 355.4,381.0 355.5,381.7 355.6,381.5 355.9,381.7 356.1,381.7 356.3,383.1 356.6,381.1 356.8,381.9 357.0,381.5 357.3,381.1 357.5,382.5 357.7,383.7 358.0,383.2 358.2,383.5 358.4,383.1 358.7,382.7 358.9,384.1 359.1,382.6 359.4,383.8 359.6,382.7 359.8,382.9 360.1,383.1 360.3,382.9 360.5,383.2 360.7,383.3 361.0,384.0 361.2,382.9 361.4,381.7 361.7,381.6 361.9,382.1 362.1,382.5 362.4,383.3 362.6,382.0 362.8,383.0 363.1,383.0 363.3,383.1 363.5,382.9 363.8,383.2 364.0,383.0 364.2,383.6 364.5,383.2 364.7,381.5 364.9,383.0 365.2,383.1 365.4,382.6 365.6,382.5 365.9,383.6 366.1,383.1 366.3,382.4 366.6,382.8 366.8,382.9 367.0,382.0 367.3,383.4 367.5,382.9 367.7,383.3 367.9,382.0 368.2,384.2 368.4,383.4 368.6,383.3 368.9,382.5 369.1,382.6 369.3,382.1 369.6,383.9 369.8,382.5 370.0,383.1 370.3,383.4 370.5,382.6 370.7,383.5 371.0,384.3 371.2,383.2 371.4,383.9 371.7,383.4 371.9,382.7 372.1,382.8 372.4,381.9 372.6,383.1 372.8,383.9 373.1,383.4 373.3,383.5 373.5,383.7 373.8,382.7 374.0,383.4 374.2,384.2 374.4,382.5 374.7,383.0 374.9,382.7 375.1,382.9 375.4,382.5 375.6,382.9 375.8,382.2 376.1,382.7 376.3,382.7 376.5,382.7 376.8,383.9 377.0,383.0 377.2,383.1 377.5,382.8 377.7,383.8 377.9,381.9 378.2,382.9 378.4,383.7 378.6,384.0 378.9,383.1 379.1,383.0 379.3,383.4 379.6,382.9 379.8,383.3 380.0,382.6 380.3,383.4 380.5,382.9 380.7,382.3 381.0,381.3 381.2,383.5 381.4,383.2 381.6,383.4 381.9,382.3 382.1,383.5 382.3,383.1 382.6,382.7 382.8,383.3 383.0,383.2 383.3,382.8 383.5,383.7 383.7,383.1 384.0,382.3 384.2,381.8 384.4,381.9 384.7,382.8 384.9,381.9 385.0,381.1 385.1,381.2 385.4,381.7 385.6,382.3 385.8,381.5 386.1,382.4 386.3,383.0 386.5,382.9 386.8,381.6 387.0,382.4 387.2,381.9 387.5,383.0 387.7,382.2 387.9,383.2 388.1,382.9 388.4,381.3 388.6,382.4 388.8,383.2 389.1,382.9 389.3,382.7 389.5,382.1 389.8,383.2 390.0,384.0 390.2,383.1 390.5,382.9 390.7,382.8 390.9,382.1 391.2,382.7 391.4,382.4 391.6,383.6 391.9,382.4 392.1,381.6 392.3,382.4 392.6,382.8 392.8,382.8 393.0,381.8 393.3,383.5 393.5,383.0 393.7,382.6 394.0,382.5 394.2,383.2 394.4,382.7 394.7,383.1 394.9,382.9 395.1,383.0 395.3,383.7 395.6,382.9 395.8,382.4 396.0,383.5 396.3,383.1 396.5,382.5 396.7,383.6 397.0,382.8 397.2,383.6 397.4,382.2 397.7,381.5 397.9,381.6 398.1,383.1 398.4,382.5 398.6,382.8 398.8,382.9 399.1,381.9 399.3,383.8 399.5,382.3 399.8,383.0 400.0,382.0 400.2,382.8 400.5,383.3 400.7,382.7 400.9,382.4 401.2,382.9 401.4,382.6 401.6,383.2 401.8,384.3 402.1,382.3 402.3,382.5 402.5,382.8 402.8,382.9 403.0,382.2 403.2,383.2 403.5,383.3 403.7,383.0 403.9,382.1 404.2,383.8 404.4,382.1 404.6,383.3 404.9,383.6 405.1,382.1 405.3,382.9 405.6,383.7 405.8,383.1 406.0,382.3 406.3,382.1 406.5,383.1 406.7,382.6 407.0,382.4 407.2,383.3 407.4,382.6 407.7,382.9 407.9,383.2 408.1,383.2 408.4,382.8 408.6,382.8 408.8,383.2 409.0,383.1 409.3,382.1 409.5,382.7 409.7,382.2 410.0,382.0 410.2,382.4 410.4,381.3 410.7,383.3 410.9,382.2 411.1,382.9 411.4,381.6 411.6,381.6 411.8,383.9 412.1,383.3 412.3,382.3 412.5,382.2 412.8,382.2 413.0,382.7 413.2,382.3 413.5,382.2 413.7,382.6 413.9,381.9 414.2,383.9 414.4,382.0 414.6,383.1 414.9,381.7 415.1,382.4 415.3,382.8 415.5,381.9 415.8,382.6 416.0,382.5 416.2,382.8 416.5,381.6 416.7,381.0 416.9,380.2 417.2,380.3 417.4,378.5 417.6,377.6 417.9,375.5 418.1,372.3 418.3,368.9 418.6,366.8 418.8,365.0 419.0,365.0 419.3,366.8 419.5,370.4 419.7,372.2 420.0,375.7 420.2,377.2 420.4,379.4 420.7,379.6 420.9,380.1 421.1,380.9 421.4,379.5 421.6,380.6 421.8,379.8 422.1,380.2 422.3,381.2 422.5,380.9 422.7,380.2 423.0,380.2 423.2,379.9 423.4,379.8 423.7,380.3 423.9,378.7 424.1,379.2 424.4,376.5 424.6,375.8 424.8,373.6 425.1,369.5 425.3,361.7 425.5,348.4 425.8,323.6 426.0,286.5 426.2,246.2 426.5,221.2 426.5,219.1 426.7,234.4 426.9,271.8 427.2,312.5 427.4,340.5 427.6,358.4 427.9,367.5 428.1,371.9 428.3,373.7 428.6,376.4 428.8,377.6 429.0,379.1 429.2,378.8 429.5,379.8 429.7,379.6 429.9,380.5 430.2,379.6 430.4,382.2 430.6,381.3 430.9,380.8 431.1,381.7 431.3,382.1 431.6,381.9 431.8,382.7 432.0,381.8 432.3,380.4 432.5,381.3 432.7,382.8 433.0,382.7 433.2,382.4 433.4,381.6 433.7,382.7 433.9,382.7 434.1,381.7 434.4,381.8 434.6,382.6 434.8,383.1 435.1,383.4 435.3,382.9 435.5,383.8 435.7,382.0 436.0,382.9 436.2,382.2 436.4,381.3 436.7,381.8 436.9,383.2 437.1,382.0 437.4,381.8 437.6,383.0 437.8,383.1 438.1,382.6 438.3,383.6 438.5,381.6 438.8,384.1 439.0,383.3 439.2,382.7 439.5,382.7 439.7,382.5 439.9,382.4 440.2,382.7 440.4,381.9 440.6,383.9 440.9,382.6 441.1,383.0 441.3,382.5 441.6,382.5 441.8,383.2 442.0,383.0 442.3,382.1 442.5,382.4 442.7,383.0 442.9,381.3 443.2,381.1 443.4,383.5 443.6,382.4 443.9,381.0 444.1,382.1 444.3,382.4 444.6,382.7 444.8,382.9 445.0,382.7 445.3,382.9 445.5,382.1 445.7,382.8 446.0,382.8 446.2,383.3 446.4,382.6 446.7,383.1 446.9,382.7 447.1,381.9 447.4,382.3 447.6,382.2 447.8,382.3 448.1,382.5 448.3,382.6 448.5,382.7 448.8,382.0 449.0,383.2 449.2,381.7 449.4,382.5 449.7,383.0 449.9,382.8 450.1,382.9 450.4,382.4 450.6,383.0 450.8,381.8 451.1,383.0 451.3,383.9 451.5,382.9 451.8,383.8 452.0,382.5 452.2,381.8 452.5,382.1 452.7,383.3 452.9,382.9 453.2,381.3 453.4,382.2 453.6,382.4 453.9,381.8 454.1,380.9 454.3,381.6 454.6,382.3 454.8,382.2 455.0,382.0 455.3,382.8 455.5,383.1 455.7,382.4 456.0,383.0 456.2,382.4 456.4,382.3 456.6,380.9 456.9,382.9 457.1,382.5 457.3,382.5 457.6,382.1 457.8,381.7 458.0,382.7 458.3,382.9 458.5,383.4 458.7,382.9 459.0,382.0 459.2,382.3 459.4,383.0 459.7,382.6 459.9,382.3 460.1,382.0 460.4,382.7 460.6,382.4 460.8,383.4 461.1,383.0 461.3,381.2 461.5,383.6 461.8,382.5 462.0,382.1 462.2,382.5 462.5,382.7 462.7,382.3 462.9,382.2 463.1,382.3 463.4,383.4 463.6,382.3 463.8,382.8 464.1,382.6 464.3,382.1 464.5,381.8 464.8,381.6 465.0,382.5 465.2,381.6 465.5,381.5 465.7,381.5 465.9,381.3 466.2,382.3 466.4,382.3 466.6,381.7 466.9,383.0 467.1,382.0 467.3,382.5 467.6,382.4 467.8,383.2 468.0,382.7 468.3,382.1 468.5,381.5 468.7,381.4 469.0,382.0 469.2,382.1 469.4,382.4 469.7,381.6 469.9,381.9 470.1,381.3 470.3,380.4 470.6,381.3 470.8,382.0 471.0,381.1 471.3,380.9 471.5,379.9 471.7,377.2 472.0,376.5 472.2,376.1 472.4,373.2 472.7,371.7 472.9,372.3 473.1,372.9 473.4,373.8 473.6,374.9 473.8,376.1 474.1,377.1 474.3,378.2 474.5,379.0 474.8,379.5 475.0,380.3 475.2,381.9 475.5,381.2 475.7,381.0 475.9,381.5 476.2,380.6 476.4,381.4 476.6,381.7 476.8,380.2 477.1,380.6 477.3,380.8 477.5,380.2 477.8,379.9 478.0,380.2 478.2,381.7 478.5,380.3 478.7,379.8 478.9,379.7 479.2,378.4 479.4,377.0 479.6,377.1 479.9,376.2 480.1,372.1 480.3,370.2 480.6,364.4 480.8,352.3 481.0,333.6 481.3,307.5 481.5,274.4 481.7,247.6 481.9,240.1 482.0,240.2 482.2,259.0 482.4,291.5 482.7,321.1 482.9,344.2 483.1,357.0 483.4,367.8 483.6,371.1 483.8,374.7 484.0,376.4 484.3,377.0 484.5,377.7 484.7,378.1 485.0,379.2 485.2,380.2 485.4,380.5 485.7,380.2 485.9,380.3 486.1,380.0 486.4,380.8 486.6,380.5 486.8,380.3 487.1,381.2 487.3,382.2 487.5,382.0 487.8,382.1 488.0,380.0 488.2,381.4 488.5,379.8 488.7,380.0 488.9,379.0 489.2,379.3 489.4,380.0 489.4,380.0 489.6,380.0 489.9,380.1 490.1,380.9 490.3,380.9 490.5,380.2 490.8,382.5 491.0,381.5 491.2,382.5 491.5,381.9 491.7,381.6 491.9,382.3 492.2,381.8 492.4,383.4 492.6,381.7 492.9,382.8 493.1,382.0 493.3,382.3 493.6,384.1 493.8,382.9 494.0,382.3 494.3,381.4 494.5,382.2 494.7,382.2 495.0,383.2 495.2,381.4 495.4,381.1 495.7,382.2 495.9,382.3 496.1,383.1 496.4,381.4 496.6,380.1 496.8,381.2 497.1,380.6 497.3,380.7 497.5,381.1 497.7,378.5 498.0,378.3 498.2,374.5 498.4,369.4 498.7,363.0 498.9,357.0 499.1,353.3 499.2,353.8 499.4,355.6 499.6,360.2 499.8,367.1 500.1,373.0 500.3,376.9 500.5,378.9 500.8,381.2 501.0,381.7 501.2,382.3 501.5,381.5 501.7,381.6 501.9,380.7 502.2,383.1 502.4,382.7 502.6,381.7 502.9,382.5 503.1,382.7 503.3,381.4 503.6,382.8 503.8,383.3 504.0,383.4 504.2,382.4 504.5,382.5 504.7,383.5 504.9,383.3 505.2,382.4 505.4,382.4 505.6,383.1 505.9,382.3 506.1,382.4 506.3,383.9 506.6,383.0 506.8,382.5 507.0,383.1 507.3,384.1 507.5,382.9 507.7,382.3 508.0,381.8 508.2,384.1 508.4,381.1 508.7,383.4 508.9,382.1 509.1,381.8 509.4,381.9 509.6,382.3 509.8,383.1 510.1,381.8 510.3,382.5 510.5,383.4 510.8,379.8 511.0,381.0 511.2,380.2 511.4,381.9 511.5,380.4 511.7,380.3 511.9,380.4 512.1,381.6 512.4,382.5 512.6,382.1 512.8,383.5 513.1,383.4 513.3,382.4 513.5,383.2 513.8,382.7 514.0,382.8 514.2,381.5 514.5,382.0 514.7,382.9 514.9,382.1 515.2,383.4 515.4,383.1 515.6,382.3 515.9,383.7 516.1,383.1 516.3,383.8 516.6,382.8 516.8,381.9 517.0,383.4 517.3,382.8 517.5,383.5 517.7,383.7 517.9,383.7 518.2,382.0 518.4,381.5 518.6,382.7 518.9,383.4 519.1,382.5 519.3,383.2 519.6,382.5 519.8,382.8 520.0,382.8 520.3,382.6 520.5,383.3 520.7,383.2 521.0,384.1 521.2,383.3 521.4,383.9 521.7,383.1 521.9,383.6 522.1,382.9 522.4,382.7 522.6,383.9 522.8,383.5 523.1,383.6 523.3,382.5 523.5,381.9 523.8,382.5 524.0,383.2 524.2,382.1 524.5,384.0 524.7,382.0 524.9,383.4 525.1,384.8 525.4,381.3 525.6,382.0 525.8,383.7 526.1,382.9 526.3,383.1 526.5,382.9 526.8,383.9 527.0,383.4 527.2,382.7 527.5,382.9 527.7,382.2 527.9,383.0 528.2,381.5 528.4,383.5 528.6,382.8 528.9,384.2 529.1,383.8 529.3,382.2 529.6,383.6 529.8,382.7 530.0,383.1 530.3,383.7 530.5,383.2 530.7,383.3 531.0,383.3 531.2,382.5 531.4,382.6 531.6,383.4 531.9,383.6 532.1,382.8 532.3,383.1 532.6,382.4 532.8,381.3 533.0,382.5 533.3,383.0 533.5,383.1 533.7,383.6 534.0,383.6 534.2,383.7 534.4,383.3 534.7,383.3 534.9,382.5 535.1,383.3 535.4,383.1 535.6,383.8 535.8,382.0 536.1,382.7 536.3,381.9 536.5,382.5 536.8,382.1 537.0,383.2 537.2,382.6 537.5,381.3 537.7,383.8 537.9,382.3 538.1,381.9 538.4,382.7 538.6,382.5 538.8,382.2 539.1,383.4 539.3,382.7 539.5,383.6 539.8,383.4 540.0,383.4 540.2,383.1 540.5,382.9 540.7,382.7 540.9,383.9 541.2,381.7 541.4,382.2 541.6,382.4 541.9,383.1 542.1,382.9 542.3,382.4 542.6,382.5 542.8,383.7 543.0,382.0 543.3,380.5 543.5,383.5 543.7,381.5 544.0,381.7 544.2,381.9 544.4,380.9 544.6,382.5 544.7,381.7 544.9,380.9 545.1,382.0 545.3,382.3 545.6,382.1 545.8,382.6 546.0,381.5 546.3,383.2 546.5,382.1 546.7,383.6 547.0,382.4 547.2,382.9 547.4,384.6 547.7,382.9 547.9,383.6 548.1,383.2 548.4,382.0 548.6,383.7 548.8,383.7 549.1,382.1 549.3,382.9 549.5,382.0 549.8,382.8 550.0,383.6 550.2,383.0 550.5,382.2 550.7,382.4 550.9,383.0 551.2,383.0 551.4,383.1 551.6,383.4 551.8,381.7 552.1,383.0 552.3,383.7 552.5,383.3 552.8,382.5 553.0,382.6 553.2,383.1 553.5,383.4 553.7,383.0 553.9,384.1 554.2,383.8 554.4,382.5 554.6,383.3 554.9,382.7 555.1,382.2 555.3,382.6 555.6,383.0 555.8,381.6 556.0,382.5 556.3,383.2 556.5,382.5 556.7,382.7 557.0,383.5 557.2,382.9 557.4,383.0 557.7,384.2 557.9,383.0 558.1,383.1 558.4,383.2 558.6,383.9 558.8,383.1 559.0,382.9 559.3,382.7 559.5,383.5 559.7,382.3 560.0,383.5 560.2,382.8 560.4,381.8 560.7,383.0 560.9,382.9 561.1,381.7 561.4,382.6 561.6,382.4 561.8,381.9 562.1,381.2 562.3,383.0 562.5,381.7 562.8,381.1 563.0,379.9 563.2,377.7 563.5,374.8 563.7,370.2 563.9,366.6 564.2,362.1 564.4,360.2 564.4,360.9 564.6,361.8 564.9,364.6 565.1,369.8 565.3,374.3 565.5,377.0 565.8,379.6 566.0,380.1 566.2,380.5 566.5,382.1 566.7,382.0 566.9,381.3 567.2,382.5 567.4,382.2 567.6,383.1 567.9,383.0 568.1,382.9 568.3,381.2 568.6,382.9 568.8,383.0 569.0,383.1 569.3,382.9 569.5,382.4 569.7,382.7 570.0,381.5 570.2,382.7 570.4,381.9 570.7,382.7 570.9,382.5 571.1,383.8 571.4,383.0 571.6,382.9 571.8,383.0 572.1,384.2 572.3,382.3 572.5,383.1 572.7,383.1 573.0,383.0 573.2,383.0 573.4,382.5 573.7,383.6 573.9,383.3 574.1,382.4 574.4,382.4 574.6,382.6 574.8,382.6 575.1,382.6 575.3,382.0 575.5,381.0 575.8,382.3 576.0,380.6 576.2,381.0 576.2,381.8 576.5,381.1 576.7,382.6 576.9,382.9 577.2,382.8 577.4,382.4 577.6,382.5 577.9,382.8 578.1,382.5 578.3,384.0 578.6,382.4 578.8,383.7 579.0,383.3 579.2,383.1 579.5,383.6 579.7,383.8 579.9,383.6 580.2,383.0 580.4,382.6 580.6,382.6 580.9,383.6 581.1,383.5 581.3,383.6 581.6,382.7 581.8,384.3 582.0,382.2 582.3,383.3 582.5,383.5 582.7,382.8 583.0,382.3 583.2,382.8 583.4,382.3 583.7,382.9 583.9,382.2 584.1,382.2 584.4,383.1 584.6,382.1 584.8,382.9 585.1,382.9 585.3,383.6 585.5,383.2 585.8,382.5 586.0,383.8 586.2,382.6 586.4,382.8 586.7,382.8 586.9,384.4 587.1,383.1 587.4,382.6 587.6,383.5 587.8,382.9 588.1,384.5 588.3,382.6 588.5,383.4 588.8,382.4 589.0,384.1 589.2,382.5 589.5,383.1 589.7,382.5 589.9,383.5 590.2,383.3 590.4,381.5 590.6,383.5 590.9,383.4 591.1,383.1 591.3,383.6 591.6,382.1 591.8,381.8 592.0,383.3 592.3,383.9 592.5,382.1 592.7,382.1 592.9,382.2 593.2,381.9 593.4,383.1 593.6,382.5 593.9,383.1 594.1,382.8 594.3,381.0 594.6,381.7 594.8,379.5 595.0,380.5 595.3,380.7 595.5,379.6 595.6,378.9 595.7,379.8 596.0,381.1 596.2,380.4 596.4,380.1 596.7,381.6 596.9,382.1 597.1,381.3 597.4,382.1 597.6,383.1 597.8,382.7 598.1,383.1 598.3,382.5 598.5,382.6 598.8,382.0 599.0,382.3 599.2,383.8 599.5,382.5 599.7,382.2 599.9,382.5 600.1,382.2 600.4,383.2 600.6,383.4 600.8,382.2 601.1,383.5 601.3,384.2 601.5,382.1 601.8,383.2 602.0,383.0 602.2,383.7 602.5,383.6 602.7,383.5 602.9,383.0 603.2,382.5 603.4,384.2 603.6,382.2 603.9,383.4 604.1,383.3 604.3,382.2 604.6,382.6 604.8,383.5 605.0,381.3 605.3,383.0 605.5,382.2 605.7,382.2 606.0,381.4 606.2,382.5 606.4,381.5 606.6,382.5 606.9,381.2 607.1,382.2 607.3,381.8 607.6,380.2 607.8,380.9 608.0,380.8 608.3,379.0 608.5,379.6 608.7,379.4 609.0,377.1 609.2,376.0 609.4,371.0 609.7,365.8 609.9,359.8 610.1,351.2 610.4,341.7 610.6,334.6 610.8,332.8 610.8,331.9 611.1,337.3 611.3,344.2 611.5,353.3 611.8,361.5 612.0,367.8 612.2,373.5 612.5,375.5 612.7,378.0 612.9,379.6 613.2,380.8 613.4,381.2 613.6,380.6 613.8,381.8 614.1,381.4 614.3,380.9 614.5,381.1 614.8,380.9 615.0,382.2 615.2,382.8 615.5,381.5 615.7,382.0 615.9,381.6 616.2,382.3 616.4,381.6 616.6,381.9 616.9,382.0 617.1,382.1 617.3,382.2 617.6,382.4 617.8,382.4 618.0,381.9 618.3,382.9 618.5,381.5 618.7,382.6 619.0,381.9 619.2,382.6 619.4,382.7 619.7,381.3 619.9,382.7 620.1,383.3 620.3,382.9 620.6,382.7 620.8,381.1 621.0,382.3 621.3,381.8 621.5,383.0 621.7,382.1 622.0,381.8 622.2,381.0 622.4,382.5 622.7,381.6 622.9,381.6 623.1,382.3 623.4,381.5 623.6,381.4 623.8,382.3 624.1,380.0 624.3,379.2 624.5,378.6 624.8,377.2 625.0,372.4 625.2,369.0 625.5,363.0 625.7,356.4 625.9,351.3 626.2,346.1 626.3,345.9 626.4,346.1 626.6,349.6 626.9,355.6 627.1,361.4 627.3,367.8 627.5,372.5 627.8,375.9 628.0,377.7 628.2,379.9 628.5,380.5 628.7,380.8 628.9,381.5 629.2,381.5 629.4,382.1 629.6,380.6 629.9,381.1 630.1,381.8 630.3,382.2 630.6,380.9 630.8,382.2 631.0,382.5 631.3,382.3 631.5,382.3 631.7,381.7 632.0,382.6 632.2,381.3 632.4,383.2 632.7,382.3 632.9,383.4 633.1,381.6 633.4,383.0 633.6,382.8 633.8,382.2 634.0,382.0 634.3,383.5 634.5,383.1 634.7,383.7 635.0,382.8 635.2,382.9 635.4,383.1 635.7,383.3 635.9,383.1 636.1,383.4 636.4,382.6 636.6,382.0 636.8,384.2 637.1,383.0 637.3,383.2 637.5,382.6 637.8,383.6 638.0,383.1 638.2,383.6 638.5,382.5 638.7,382.9 638.9,383.1 639.2,382.7 639.4,383.1 639.6,384.0 639.9,382.6 640.1,382.8 640.3,383.1 640.6,382.4 640.8,382.2 641.0,383.7 641.2,383.5 641.5,382.0 641.7,382.1 641.9,383.5 642.2,383.8 642.4,383.4 642.6,383.3 642.9,384.0 643.1,383.0 643.3,383.8 643.6,383.8 643.8,382.4 644.0,383.5 644.3,383.1 644.5,382.6 644.7,382.5 645.0,383.2 645.2,383.0 645.4,383.6 645.7,381.9 645.9,382.6 646.1,383.7 646.4,383.0 646.6,382.6 646.8,382.7 647.1,381.9 647.3,382.2 647.5,383.4 647.7,383.1 648.0,383.8 648.2,382.9 648.4,382.9 648.7,381.3 648.9,383.0 649.1,384.4 649.4,383.5 649.6,383.0 649.8,383.8 650.1,383.6 650.3,383.3 650.5,382.8 650.8,383.1 651.0,383.6 651.2,382.5 651.5,383.4 651.7,383.4 651.9,383.9 652.2,383.5 652.4,382.6 652.6,384.1 652.9,383.1 653.1,382.6 653.3,383.3 653.6,382.9 653.8,383.8 654.0,382.2 654.2,382.3 654.5,382.9 654.7,384.2 654.9,383.7 655.2,382.4 655.4,382.0 655.6,382.9 655.9,382.3 656.1,383.4 656.3,383.2 656.6,383.0 656.8,382.8 657.0,384.0 657.3,382.4 657.5,382.2 657.7,383.8 658.0,383.9 658.2,382.8 658.4,383.4 658.7,384.5 658.9,382.5 659.1,382.9 659.4,383.3 659.6,381.7 659.8,382.9 660.1,383.5 660.3,383.0 660.5,383.7 660.8,383.5 661.0,382.8 661.2,383.4 661.4,383.3 661.7,382.0 661.9,382.5 662.1,382.5 662.4,382.7 662.6,382.7 662.8,382.1 663.1,383.0 663.3,381.8 663.5,383.6 663.8,383.1 664.0,383.8 664.2,383.2 664.5,382.6 664.7,382.0 664.9,383.3 665.2,382.9 665.4,383.1 665.6,383.3 665.9,383.5 666.1,382.7 666.3,383.7 666.6,382.4 666.8,382.3 667.0,382.6 667.3,382.6 667.5,382.6 667.7,380.3 667.9,382.0 668.2,379.9 668.4,380.3 668.6,380.9 668.7,381.4 668.9,380.0 669.1,379.7 669.3,381.6 669.6,381.5 669.8,380.9 670.0,381.6 670.3,380.8 670.5,382.6 670.7,382.1 671.0,383.3 671.2,381.3 671.4,383.2 671.7,384.2 671.9,382.9 672.1,382.9 672.4,381.7 672.6,383.1 672.8,382.9 673.1,382.5 673.3,381.9 673.5,383.0 673.8,382.3 674.0,382.6 674.2,383.1 674.5,382.9 674.7,382.9 674.9,383.5 675.1,382.2 675.4,383.8 675.6,382.2 675.8,382.3 676.1,383.0 676.3,383.4 676.5,383.1 676.8,382.6 677.0,382.4 677.2,382.7 677.5,382.3 677.7,383.2 677.9,382.7 678.2,383.9 678.4,382.4 678.6,382.8 678.9,383.1 679.1,382.1 679.3,382.4 679.6,384.6 679.8,382.8 680.0,383.7 680.3,382.1 680.5,381.2 680.7,383.0 681.0,382.6 681.2,382.8 681.4,382.4 681.6,382.2 681.9,381.7 682.1,383.1 682.3,381.4 682.6,383.0 682.8,382.1 683.0,381.5 683.3,381.6 683.5,382.6 683.7,382.3 684.0,381.9 684.2,381.4 684.4,380.4 684.7,381.5 684.9,379.7 685.1,378.6 685.4,377.2 685.6,375.0 685.8,371.2 686.1,367.8 686.3,362.6 686.5,357.4 686.8,351.8 687.0,351.2 687.1,348.8 687.2,350.2 687.5,353.3 687.7,358.7 687.9,364.6 688.2,368.5 688.4,372.8 688.6,375.1 688.8,378.5 689.1,378.2 689.3,379.9 689.5,380.8 689.8,381.5 690.0,381.9 690.2,382.3 690.5,382.1 690.7,381.9 690.9,382.1 691.2,383.0 691.4,382.4 691.6,382.8 691.9,382.2 692.1,381.2 692.3,382.0 692.6,382.6 692.8,383.5 693.0,383.4 693.3,383.6 693.5,382.1 693.7,383.0 694.0,382.5 694.2,383.0 694.4,382.5 694.7,381.7 694.9,383.0 695.1,382.8 695.3,383.0 695.6,382.0 695.8,383.1 696.0,383.1 696.3,383.2 696.5,383.2 696.7,381.9 697.0,380.4 697.2,382.6 697.4,381.2 697.7,381.5 697.9,382.3 698.1,381.7 698.2,381.7 698.4,382.0 698.6,380.4 698.8,382.9 699.1,381.6 699.3,381.8 699.5,382.5 699.8,382.1 700.0,381.7 700.2,382.2 700.5,382.1 700.7,382.0 700.9,383.8 701.2,381.6 701.4,381.1 701.6,381.9 701.9,381.9 702.1,383.4 702.3,382.6 702.5,383.0 702.8,382.9 703.0,381.9 703.2,383.0 703.5,382.6 703.7,383.7 703.9,382.6 704.2,382.4 704.4,382.9 704.6,382.9 704.9,381.2 705.1,383.2 705.3,383.0 705.6,382.9 705.8,381.6 706.0,381.0 706.3,382.1 706.5,382.7 706.7,382.5 707.0,381.6 707.2,382.8 707.4,381.3 707.7,381.3 707.9,382.1 708.1,381.7 708.4,381.6 708.6,381.1 708.8,382.7 709.0,381.3 709.3,382.3 709.5,382.5 709.7,381.9 710.0,382.1 710.2,382.6 710.4,382.9 710.7,382.5 710.9,381.0 711.1,380.6 711.4,381.4 711.6,381.1 711.8,382.1 712.1,381.8 712.3,381.6"/>
<polyline fill="none" stroke="#2a2aff" stroke-width="1" stroke-opacity="0.72" stroke-linejoin="round" points="189.9,382.0 190.1,382.0 190.3,382.0 190.5,382.0 190.8,382.0 191.0,382.0 191.2,382.0 191.5,382.0 191.7,382.0 191.9,382.0 192.2,382.0 192.4,382.0 192.6,382.0 192.9,382.0 193.1,381.9 193.3,381.9 193.6,381.9 193.8,381.9 194.0,381.9 194.3,381.9 194.5,381.9 194.7,381.9 195.0,381.9 195.2,381.9 195.4,381.9 195.7,381.9 195.9,381.9 196.1,381.9 196.4,381.9 196.6,381.9 196.8,381.9 197.0,381.9 197.3,381.9 197.5,381.9 197.7,381.9 198.0,381.9 198.2,381.9 198.4,381.9 198.7,381.9 198.9,381.9 199.1,381.9 199.4,381.9 199.6,381.9 199.8,381.9 200.1,381.8 200.3,381.8 200.5,381.8 200.8,381.8 201.0,381.8 201.2,381.8 201.5,381.8 201.7,381.8 201.9,381.8 202.2,381.8 202.4,381.8 202.6,381.8 202.9,381.8 203.1,381.8 203.3,381.8 203.5,381.8 203.8,381.8 204.0,381.8 204.2,381.8 204.5,381.8 204.7,381.8 204.9,381.8 205.2,381.8 205.4,381.8 205.6,381.8 205.9,381.8 206.1,381.8 206.3,381.8 206.6,381.8 206.8,381.7 207.0,381.7 207.3,381.7 207.5,381.7 207.7,381.7 208.0,381.7 208.2,381.7 208.4,381.7 208.7,381.7 208.9,381.7 209.1,381.7 209.4,381.7 209.6,381.7 209.8,381.7 210.1,381.7 210.3,381.7 210.5,381.7 210.7,381.7 211.0,381.7 211.2,381.7 211.4,381.7 211.7,381.7 211.9,381.7 212.1,381.7 212.4,381.6 212.6,381.6 212.8,381.6 213.1,381.6 213.3,381.6 213.5,381.6 213.8,381.6 214.0,381.6 214.2,381.6 214.5,381.6 214.7,381.6 214.9,381.6 215.2,381.6 215.4,381.5 215.6,381.5 215.9,381.5 216.1,381.5 216.3,381.5 216.6,381.4 216.8,381.4 217.0,381.4 217.2,381.3 217.5,381.3 217.7,381.2 217.9,381.1 218.2,380.9 218.4,380.6 218.6,380.2 218.9,379.6 219.1,378.9 219.3,378.0 219.6,377.2 219.8,376.6 220.0,376.4 220.0,376.4 220.3,376.7 220.5,377.4 220.7,378.3 221.0,379.1 221.2,379.7 221.4,380.2 221.7,380.6 221.9,380.9 222.1,381.0 222.4,381.1 222.6,381.2 222.8,381.2 223.1,381.2 223.3,381.3 223.5,381.3 223.8,381.3 224.0,381.3 224.2,381.3 224.4,381.3 224.7,381.3 224.9,381.3 225.1,381.3 225.4,381.3 225.6,381.3 225.8,381.3 226.1,381.3 226.3,381.3 226.5,381.3 226.8,381.3 227.0,381.3 227.2,381.3 227.5,381.3 227.7,381.3 227.9,381.3 228.2,381.3 228.4,381.3 228.6,381.3 228.9,381.3 229.1,381.2 229.3,381.2 229.6,381.2 229.8,381.2 230.0,381.2 230.3,381.2 230.5,381.2 230.7,381.2 230.9,381.2 231.2,381.2 231.4,381.2 231.6,381.2 231.9,381.2 232.1,381.2 232.3,381.2 232.6,381.2 232.8,381.1 233.0,381.1 233.3,381.1 233.5,381.1 233.7,381.1 234.0,381.1 234.2,381.1 234.4,381.1 234.7,381.1 234.9,381.1 235.1,381.1 235.4,381.1 235.6,381.1 235.8,381.1 236.1,381.0 236.3,381.0 236.5,381.0 236.8,381.0 237.0,381.0 237.2,381.0 237.5,381.0 237.7,381.0 237.9,381.0 238.1,381.0 238.4,381.0 238.6,381.0 238.8,381.0 239.1,381.0 239.3,380.9 239.5,380.9 239.8,380.9 240.0,380.9 240.2,380.9 240.5,380.9 240.7,380.9 240.9,380.9 241.2,380.9 241.4,380.9 241.6,380.9 241.9,380.9 242.1,380.9 242.3,380.9 242.6,380.8 242.8,380.8 243.0,380.8 243.3,380.8 243.5,380.8 243.7,380.8 244.0,380.8 244.2,380.8 244.4,380.8 244.6,380.8 244.9,380.8 245.1,380.8 245.3,380.8 245.6,380.8 245.8,380.7 246.0,380.7 246.3,380.7 246.5,380.7 246.7,380.7 247.0,380.7 247.2,380.7 247.4,380.7 247.7,380.7 247.9,380.7 248.1,380.7 248.4,380.7 248.6,380.7 248.8,380.7 249.1,380.7 249.3,380.7 249.5,380.7 249.8,380.7 250.0,380.7 250.2,380.7 250.5,380.7 250.7,380.7 250.9,380.7 251.2,380.7 251.4,380.7 251.6,380.7 251.8,380.6 252.1,380.6 252.3,380.6 252.5,380.6 252.8,380.6 253.0,380.6 253.2,380.6 253.5,380.6 253.7,380.6 253.9,380.6 254.2,380.6 254.4,380.6 254.6,380.6 254.9,380.6 255.1,380.6 255.3,380.6 255.6,380.6 255.8,380.6 256.0,380.6 256.3,380.6 256.5,380.6 256.7,380.6 257.0,380.6 257.2,380.6 257.4,380.6 257.7,380.6 257.9,380.6 258.1,380.6 258.3,380.6 258.6,380.6 258.8,380.6 259.0,380.6 259.3,380.6 259.5,380.6 259.7,380.6 260.0,380.6 260.2,380.6 260.4,380.6 260.7,380.6 260.9,380.6 261.1,380.6 261.4,380.6 261.6,380.6 261.8,380.6 262.1,380.6 262.3,380.6 262.5,380.6 262.8,380.5 263.0,380.5 263.2,380.5 263.5,380.5 263.7,380.5 263.9,380.5 264.2,380.5 264.4,380.5 264.6,380.5 264.9,380.5 265.1,380.5 265.3,380.5 265.5,380.5 265.8,380.5 266.0,380.5 266.2,380.5 266.5,380.5 266.7,380.5 266.9,380.5 267.2,380.5 267.4,380.5 267.6,380.5 267.9,380.5 268.1,380.5 268.3,380.5 268.6,380.5 268.8,380.5 269.0,380.5 269.3,380.5 269.5,380.5 269.7,380.5 270.0,380.5 270.2,380.5 270.4,380.5 270.7,380.5 270.9,380.5 271.1,380.5 271.4,380.5 271.6,380.5 271.8,380.5 272.0,380.5 272.3,380.5 272.5,380.5 272.7,380.5 273.0,380.5 273.2,380.5 273.4,380.6 273.7,380.6 273.9,380.6 274.1,380.6 274.4,380.6 274.6,380.6 274.8,380.6 275.1,380.6 275.3,380.6 275.5,380.6 275.8,380.6 276.0,380.7 276.2,380.7 276.5,380.7 276.7,380.7 276.9,380.7 277.2,380.7 277.4,380.7 277.6,380.7 277.9,380.7 278.1,380.7 278.3,380.7 278.6,380.7 278.8,380.8 279.0,380.8 279.2,380.8 279.5,380.8 279.7,380.8 279.9,380.8 280.2,380.8 280.4,380.8 280.6,380.8 280.9,380.8 281.1,380.8 281.3,380.9 281.6,380.9 281.8,380.9 282.0,380.9 282.3,380.9 282.5,380.9 282.7,380.9 283.0,380.9 283.2,380.9 283.4,380.9 283.7,380.9 283.9,380.9 284.1,381.0 284.4,381.0 284.6,381.0 284.8,381.0 285.1,381.0 285.3,381.0 285.5,381.0 285.7,381.0 286.0,381.0 286.2,381.0 286.4,381.0 286.7,381.0 286.9,381.0 287.1,381.1 287.4,381.1 287.6,381.1 287.8,381.1 288.1,381.1 288.3,381.1 288.5,381.1 288.8,381.1 289.0,381.1 289.2,381.1 289.5,381.1 289.7,381.1 289.9,381.2 290.2,381.2 290.4,381.2 290.6,381.2 290.9,381.2 291.1,381.2 291.3,381.2 291.6,381.2 291.8,381.2 292.0,381.2 292.3,381.2 292.5,381.2 292.7,381.2 292.9,381.3 293.2,381.3 293.4,381.3 293.6,381.3 293.9,381.3 294.1,381.3 294.3,381.3 294.6,381.3 294.8,381.3 295.0,381.3 295.3,381.3 295.5,381.3 295.7,381.3 296.0,381.3 296.2,381.3 296.4,381.3 296.7,381.3 296.9,381.3 297.1,381.3 297.4,381.3 297.6,381.3 297.8,381.2 298.1,381.2 298.3,381.2 298.5,381.1 298.8,381.1 299.0,381.0 299.2,380.9 299.4,380.7 299.7,380.4 299.9,380.0 300.1,379.4 300.4,378.6 300.6,377.6 300.8,376.8 301.1,376.2 301.2,376.1 301.3,376.1 301.5,376.6 301.8,377.5 302.0,378.3 302.2,379.1 302.5,379.7 302.7,380.1 302.9,380.4 303.2,380.5 303.4,380.5 303.6,380.6 303.9,380.5 304.1,380.5 304.3,380.4 304.6,380.3 304.8,380.1 305.0,380.0 305.3,379.8 305.5,379.6 305.7,379.3 305.9,378.9 306.2,378.5 306.4,377.9 306.6,377.2 306.9,376.3 307.1,375.1 307.3,373.4 307.6,371.1 307.8,367.6 308.0,361.7 308.3,349.0 308.5,319.5 308.7,258.6 309.0,163.7 309.2,76.2 309.3,64.5 309.4,84.9 309.7,178.9 309.9,269.9 310.1,325.5 310.4,351.7 310.6,362.9 310.8,368.4 311.1,371.7 311.3,373.9 311.5,375.5 311.8,376.7 312.0,377.6 312.2,378.3 312.5,378.9 312.7,379.3 312.9,379.7 313.1,380.0 313.4,380.3 313.6,380.5 313.8,380.7 314.1,380.9 314.3,381.0 314.5,381.2 314.8,381.3 315.0,381.4 315.2,381.5 315.5,381.5 315.7,381.6 315.9,381.7 316.2,381.7 316.4,381.8 316.6,381.9 316.9,381.9 317.1,382.0 317.3,382.0 317.6,382.0 317.8,382.1 318.0,382.1 318.3,382.1 318.5,382.1 318.7,382.2 319.0,382.2 319.2,382.2 319.4,382.2 319.6,382.2 319.9,382.3 320.1,382.3 320.3,382.3 320.6,382.3 320.8,382.3 321.0,382.3 321.3,382.3 321.5,382.3 321.7,382.4 322.0,382.4 322.2,382.4 322.4,382.4 322.7,382.4 322.9,382.4 323.1,382.4 323.4,382.4 323.6,382.4 323.8,382.4 324.1,382.4 324.3,382.4 324.5,382.4 324.8,382.4 325.0,382.4 325.2,382.5 325.5,382.5 325.7,382.5 325.9,382.5 326.2,382.5 326.4,382.5 326.6,382.5 326.8,382.5 327.1,382.5 327.3,382.5 327.5,382.5 327.8,382.5 328.0,382.5 328.2,382.5 328.5,382.4 328.7,382.4 328.9,382.4 329.2,382.4 329.4,382.4 329.6,382.4 329.9,382.4 330.1,382.4 330.3,382.4 330.6,382.4 330.8,382.3 331.0,382.3 331.3,382.3 331.5,382.3 331.7,382.2 332.0,382.2 332.2,382.1 332.4,382.1 332.7,382.0 332.9,382.0 333.1,381.9 333.3,381.8 333.6,381.7 333.8,381.5 334.0,381.3 334.3,381.1 334.5,380.8 334.7,380.5 335.0,380.0 335.2,379.4 335.4,378.5 335.7,377.1 335.9,374.8 336.1,369.8 336.4,359.0 336.6,338.6 336.8,308.4 337.1,279.4 337.2,273.2 337.3,276.5 337.5,303.0 337.8,334.2 338.0,356.4 338.2,368.5 338.5,374.2 338.7,376.9 338.9,378.4 339.2,379.3 339.4,380.0 339.6,380.5 339.9,380.9 340.1,381.2 340.3,381.4 340.5,381.6 340.8,381.8 341.0,381.9 341.2,382.0 341.5,382.1 341.7,382.2 341.9,382.2 342.2,382.3 342.4,382.3 342.6,382.4 342.9,382.4 343.1,382.5 343.3,382.5 343.6,382.5 343.8,382.5 344.0,382.6 344.3,382.6 344.5,382.6 344.7,382.6 345.0,382.6 345.2,382.6 345.4,382.7 345.7,382.7 345.9,382.7 346.1,382.7 346.4,382.7 346.6,382.7 346.8,382.7 347.0,382.7 347.3,382.7 347.5,382.7 347.7,382.7 348.0,382.7 348.2,382.7 348.4,382.8 348.7,382.8 348.9,382.8 349.1,382.8 349.4,382.8 349.6,382.8 349.8,382.8 350.1,382.8 350.3,382.8 350.5,382.8 350.8,382.8 351.0,382.8 351.2,382.8 351.5,382.7 351.7,382.7 351.9,382.7 352.2,382.7 352.4,382.7 352.6,382.6 352.9,382.6 353.1,382.5 353.3,382.4 353.6,382.3 353.8,382.2 354.0,382.1 354.2,381.9 354.5,381.7 354.7,381.6 354.9,381.4 355.2,381.3 355.4,381.2 355.5,381.2 355.6,381.2 355.9,381.3 356.1,381.5 356.3,381.6 356.6,381.8 356.8,382.0 357.0,382.1 357.3,382.3 357.5,382.4 357.7,382.5 358.0,382.6 358.2,382.7 358.4,382.7 358.7,382.7 358.9,382.8 359.1,382.8 359.4,382.8 359.6,382.8 359.8,382.8 360.1,382.9 360.3,382.9 360.5,382.9 360.7,382.9 361.0,382.9 361.2,382.9 361.4,382.9 361.7,382.9 361.9,382.9 362.1,382.9 362.4,382.9 362.6,382.9 362.8,382.9 363.1,382.9 363.3,382.9 363.5,382.9 363.8,382.9 364.0,382.9 364.2,382.9 364.5,382.9 364.7,382.9 364.9,382.9 365.2,382.9 365.4,382.9 365.6,382.9 365.9,382.9 366.1,382.9 366.3,382.9 366.6,382.9 366.8,382.9 367.0,382.9 367.3,382.9 367.5,382.9 367.7,382.9 367.9,382.9 368.2,382.9 368.4,382.9 368.6,382.9 368.9,382.9 369.1,382.9 369.3,382.9 369.6,382.9 369.8,382.9 370.0,382.9 370.3,382.9 370.5,382.9 370.7,382.9 371.0,382.9 371.2,382.9 371.4,382.9 371.7,382.9 371.9,382.9 372.1,382.9 372.4,382.9 372.6,382.9 372.8,382.9 373.1,382.9 373.3,382.9 373.5,382.9 373.8,382.9 374.0,382.9 374.2,382.9 374.4,382.9 374.7,382.9 374.9,382.9 375.1,382.9 375.4,382.9 375.6,382.9 375.8,382.9 376.1,382.9 376.3,382.9 376.5,382.9 376.8,382.9 377.0,382.9 377.2,382.9 377.5,382.9 377.7,382.9 377.9,382.9 378.2,382.9 378.4,382.9 378.6,382.9 378.9,382.9 379.1,382.9 379.3,382.9 379.6,382.9 379.8,382.9 380.0,382.9 380.3,382.9 380.5,382.9 380.7,382.9 381.0,382.9 381.2,382.9 381.4,382.9 381.6,382.8 381.9,382.8 382.1,382.8 382.3,382.7 382.6,382.7 382.8,382.6 383.0,382.5 383.3,382.4 383.5,382.3 383.7,382.1 384.0,382.0 384.2,381.9 384.4,381.7 384.7,381.6 384.9,381.6 385.0,381.6 385.1,381.6 385.4,381.6 385.6,381.7 385.8,381.9 386.1,382.0 386.3,382.2 386.5,382.3 386.8,382.4 387.0,382.5 387.2,382.6 387.5,382.7 387.7,382.7 387.9,382.8 388.1,382.8 388.4,382.8 388.6,382.9 388.8,382.9 389.1,382.9 389.3,382.9 389.5,382.9 389.8,382.9 390.0,382.9 390.2,382.9 390.5,382.9 390.7,382.9 390.9,382.9 391.2,382.9 391.4,382.9 391.6,382.9 391.9,382.9 392.1,382.9 392.3,382.9 392.6,382.9 392.8,382.9 393.0,382.9 393.3,382.9 393.5,382.9 393.7,382.9 394.0,382.9 394.2,382.9 394.4,382.9 394.7,382.9 394.9,382.9 395.1,382.9 395.3,382.9 395.6,382.9 395.8,382.9 396.0,382.9 396.3,382.9 396.5,382.9 396.7,382.9 397.0,382.9 397.2,382.9 397.4,382.9 397.7,382.9 397.9,382.9 398.1,382.9 398.4,382.9 398.6,382.9 398.8,382.9 399.1,382.9 399.3,382.9 399.5,382.9 399.8,382.9 400.0,382.9 400.2,382.9 400.5,382.9 400.7,382.9 400.9,382.9 401.2,382.9 401.4,382.9 401.6,382.9 401.8,382.9 402.1,382.9 402.3,382.9 402.5,382.9 402.8,382.9 403.0,382.9 403.2,382.9 403.5,382.9 403.7,382.9 403.9,382.9 404.2,382.9 404.4,382.9 404.6,382.9 404.9,382.9 405.1,382.9 405.3,382.9 405.6,382.9 405.8,382.9 406.0,382.9 406.3,382.9 406.5,382.9 406.7,382.9 407.0,382.9 407.2,382.9 407.4,382.9 407.7,382.9 407.9,382.9 408.1,382.9 408.4,382.9 408.6,382.9 408.8,382.9 409.0,382.9 409.3,382.9 409.5,382.9 409.7,382.9 410.0,382.9 410.2,382.9 410.4,382.9 410.7,382.9 410.9,382.8 411.1,382.8 411.4,382.8 411.6,382.8 411.8,382.8 412.1,382.8 412.3,382.8 412.5,382.8 412.8,382.8 413.0,382.8 413.2,382.8 413.5,382.8 413.7,382.8 413.9,382.8 414.2,382.7 414.4,382.7 414.6,382.7 414.9,382.7 415.1,382.7 415.3,382.7 415.5,382.7 415.8,382.7 416.0,382.7 416.2,382.6 416.5,382.6 416.7,382.6 416.9,382.6 417.2,382.6 417.4,382.5 417.6,382.5 417.9,382.5 418.1,382.5 418.3,382.4 418.6,382.4 418.8,382.4 419.0,382.3 419.3,382.3 419.5,382.3 419.7,382.2 420.0,382.2 420.2,382.1 420.4,382.0 420.7,382.0 420.9,381.9 421.1,381.8 421.4,381.7 421.6,381.6 421.8,381.5 422.1,381.3 422.3,381.1 422.5,380.9 422.7,380.7 423.0,380.4 423.2,380.0 423.4,379.6 423.7,379.0 423.9,378.4 424.1,377.5 424.4,376.3 424.6,374.6 424.8,372.0 425.1,367.2 425.3,358.4 425.5,342.6 425.8,317.5 426.0,283.6 426.2,248.1 426.5,228.0 426.5,227.6 426.7,238.7 426.9,271.4 427.2,307.1 427.4,335.4 427.6,354.1 427.9,364.9 428.1,370.7 428.3,373.9 428.6,375.8 428.8,377.1 429.0,378.1 429.2,378.8 429.5,379.4 429.7,379.8 429.9,380.2 430.2,380.5 430.4,380.8 430.6,381.0 430.9,381.2 431.1,381.3 431.3,381.5 431.6,381.6 431.8,381.7 432.0,381.8 432.3,381.9 432.5,381.9 432.7,382.0 433.0,382.1 433.2,382.1 433.4,382.2 433.7,382.2 433.9,382.2 434.1,382.3 434.4,382.3 434.6,382.3 434.8,382.3 435.1,382.4 435.3,382.4 435.5,382.4 435.7,382.4 436.0,382.4 436.2,382.5 436.4,382.5 436.7,382.5 436.9,382.5 437.1,382.5 437.4,382.5 437.6,382.5 437.8,382.5 438.1,382.5 438.3,382.6 438.5,382.6 438.8,382.6 439.0,382.6 439.2,382.6 439.5,382.6 439.7,382.6 439.9,382.6 440.2,382.6 440.4,382.6 440.6,382.6 440.9,382.6 441.1,382.6 441.3,382.6 441.6,382.6 441.8,382.6 442.0,382.6 442.3,382.6 442.5,382.6 442.7,382.6 442.9,382.6 443.2,382.6 443.4,382.6 443.6,382.6 443.9,382.6 444.1,382.6 444.3,382.6 444.6,382.6 444.8,382.6 445.0,382.6 445.3,382.6 445.5,382.6 445.7,382.6 446.0,382.6 446.2,382.6 446.4,382.6 446.7,382.6 446.9,382.6 447.1,382.6 447.4,382.6 447.6,382.6 447.8,382.5 448.1,382.5 448.3,382.5 448.5,382.5 448.8,382.5 449.0,382.5 449.2,382.5 449.4,382.5 449.7,382.5 449.9,382.5 450.1,382.5 450.4,382.5 450.6,382.5 450.8,382.5 451.1,382.5 451.3,382.5 451.5,382.5 451.8,382.5 452.0,382.5 452.2,382.5 452.5,382.5 452.7,382.5 452.9,382.5 453.2,382.5 453.4,382.5 453.6,382.5 453.9,382.5 454.1,382.5 454.3,382.5 454.6,382.4 454.8,382.4 455.0,382.4 455.3,382.4 455.5,382.4 455.7,382.4 456.0,382.4 456.2,382.4 456.4,382.4 456.6,382.4 456.9,382.4 457.1,382.4 457.3,382.4 457.6,382.4 457.8,382.4 458.0,382.4 458.3,382.4 458.5,382.4 458.7,382.4 459.0,382.4 459.2,382.4 459.4,382.4 459.7,382.3 459.9,382.3 460.1,382.3 460.4,382.3 460.6,382.3 460.8,382.3 461.1,382.3 461.3,382.3 461.5,382.3 461.8,382.3 462.0,382.3 462.2,382.3 462.5,382.3 462.7,382.3 462.9,382.3 463.1,382.3 463.4,382.3 463.6,382.3 463.8,382.3 464.1,382.3 464.3,382.3 464.5,382.3 464.8,382.3 465.0,382.3 465.2,382.3 465.5,382.3 465.7,382.3 465.9,382.3 466.2,382.3 466.4,382.3 466.6,382.3 466.9,382.3 467.1,382.3 467.3,382.3 467.6,382.3 467.8,382.3 468.0,382.3 468.3,382.3 468.5,382.3 468.7,382.3 469.0,382.3 469.2,382.3 469.4,382.3 469.7,382.3 469.9,382.3 470.1,382.3 470.3,382.3 470.6,382.3 470.8,382.3 471.0,382.3 471.3,382.3 471.5,382.3 471.7,382.3 472.0,382.2 472.2,382.2 472.4,382.2 472.7,382.2 472.9,382.2 473.1,382.2 473.4,382.2 473.6,382.1 473.8,382.1 474.1,382.1 474.3,382.1 474.5,382.0 474.8,382.0 475.0,382.0 475.2,381.9 475.5,381.9 475.7,381.8 475.9,381.8 476.2,381.7 476.4,381.6 476.6,381.6 476.8,381.5 477.1,381.3 477.3,381.2 477.5,381.1 477.8,380.9 478.0,380.7 478.2,380.4 478.5,380.1 478.7,379.8 478.9,379.3 479.2,378.8 479.4,378.1 479.6,377.1 479.9,375.8 480.1,373.6 480.3,369.9 480.6,363.6 480.8,353.0 481.0,336.8 481.3,315.2 481.5,290.8 481.7,270.9 481.9,265.4 482.0,266.0 482.2,279.5 482.4,302.9 482.7,326.5 482.9,345.6 483.1,358.9 483.4,367.2 483.6,372.0 483.8,374.8 484.0,376.5 484.3,377.7 484.5,378.5 484.7,379.1 485.0,379.6 485.2,380.0 485.4,380.3 485.7,380.6 485.9,380.8 486.1,381.0 486.4,381.1 486.6,381.2 486.8,381.3 487.1,381.3 487.3,381.3 487.5,381.2 487.8,381.1 488.0,381.0 488.2,380.8 488.5,380.6 488.7,380.3 488.9,380.1 489.2,380.0 489.4,380.0 489.4,380.0 489.6,380.1 489.9,380.3 490.1,380.5 490.3,380.8 490.5,381.1 490.8,381.4 491.0,381.6 491.2,381.8 491.5,382.0 491.7,382.1 491.9,382.2 492.2,382.3 492.4,382.4 492.6,382.4 492.9,382.4 493.1,382.4 493.3,382.5 493.6,382.5 493.8,382.5 494.0,382.5 494.3,382.5 494.5,382.4 494.7,382.4 495.0,382.4 495.2,382.4 495.4,382.3 495.7,382.3 495.9,382.2 496.1,382.2 496.4,382.1 496.6,382.0 496.8,381.8 497.1,381.6 497.3,381.2 497.5,380.7 497.7,379.7 498.0,378.1 498.2,375.5 498.4,372.0 498.7,367.8 498.9,363.6 499.1,361.3 499.2,361.2 499.4,362.1 499.6,365.6 499.8,369.9 500.1,373.9 500.3,376.9 500.5,379.0 500.8,380.3 501.0,381.1 501.2,381.5 501.5,381.8 501.7,382.0 501.9,382.1 502.2,382.2 502.4,382.3 502.6,382.4 502.9,382.5 503.1,382.5 503.3,382.6 503.6,382.6 503.8,382.6 504.0,382.6 504.2,382.7 504.5,382.7 504.7,382.7 504.9,382.7 505.2,382.7 505.4,382.7 505.6,382.8 505.9,382.8 506.1,382.8 506.3,382.8 506.6,382.8 506.8,382.8 507.0,382.8 507.3,382.8 507.5,382.8 507.7,382.8 508.0,382.8 508.2,382.7 508.4,382.7 508.7,382.7 508.9,382.6 509.1,382.6 509.4,382.5 509.6,382.4 509.8,382.2 510.1,382.1 510.3,381.9 510.5,381.8 510.8,381.6 511.0,381.5 511.2,381.4 511.4,381.3 511.5,381.3 511.7,381.3 511.9,381.4 512.1,381.6 512.4,381.7 512.6,381.9 512.8,382.1 513.1,382.2 513.3,382.4 513.5,382.5 513.8,382.6 514.0,382.7 514.2,382.7 514.5,382.8 514.7,382.8 514.9,382.8 515.2,382.9 515.4,382.9 515.6,382.9 515.9,382.9 516.1,382.9 516.3,382.9 516.6,382.9 516.8,382.9 517.0,382.9 517.3,382.9 517.5,382.9 517.7,382.9 517.9,382.9 518.2,383.0 518.4,383.0 518.6,383.0 518.9,383.0 519.1,383.0 519.3,383.0 519.6,383.0 519.8,383.0 520.0,383.0 520.3,383.0 520.5,383.0 520.7,383.0 521.0,383.0 521.2,383.0 521.4,383.0 521.7,383.0 521.9,383.0 522.1,383.0 522.4,383.0 522.6,383.0 522.8,383.0 523.1,383.0 523.3,383.0 523.5,383.0 523.8,383.0 524.0,383.0 524.2,383.0 524.5,383.0 524.7,383.0 524.9,383.0 525.1,383.0 525.4,383.0 525.6,383.0 525.8,383.0 526.1,383.0 526.3,383.0 526.5,383.0 526.8,383.0 527.0,383.0 527.2,383.0 527.5,383.0 527.7,383.0 527.9,383.0 528.2,383.0 528.4,383.0 528.6,383.0 528.9,383.0 529.1,383.0 529.3,383.0 529.6,383.0 529.8,383.0 530.0,383.0 530.3,383.0 530.5,383.0 530.7,383.0 531.0,383.0 531.2,383.0 531.4,383.0 531.6,383.0 531.9,383.0 532.1,383.0 532.3,383.0 532.6,383.0 532.8,383.0 533.0,383.0 533.3,383.0 533.5,383.0 533.7,383.0 534.0,383.0 534.2,383.0 534.4,383.0 534.7,383.0 534.9,383.0 535.1,383.0 535.4,383.0 535.6,383.0 535.8,383.0 536.1,383.0 536.3,383.0 536.5,383.0 536.8,383.0 537.0,383.0 537.2,383.0 537.5,383.0 537.7,383.0 537.9,383.0 538.1,383.0 538.4,383.0 538.6,383.0 538.8,383.0 539.1,383.0 539.3,383.0 539.5,383.0 539.8,383.0 540.0,383.0 540.2,383.0 540.5,383.0 540.7,383.0 540.9,383.0 541.2,382.9 541.4,382.9 541.6,382.9 541.9,382.9 542.1,382.8 542.3,382.7 542.6,382.7 542.8,382.6 543.0,382.5 543.3,382.3 543.5,382.2 543.7,382.1 544.0,382.0 544.2,381.8 544.4,381.8 544.6,381.8 544.7,381.8 544.9,381.8 545.1,381.9 545.3,382.0 545.6,382.1 545.8,382.3 546.0,382.4 546.3,382.5 546.5,382.6 546.7,382.7 547.0,382.8 547.2,382.8 547.4,382.9 547.7,382.9 547.9,382.9 548.1,383.0 548.4,383.0 548.6,383.0 548.8,383.0 549.1,383.0 549.3,383.0 549.5,383.0 549.8,383.0 550.0,383.0 550.2,383.0 550.5,383.0 550.7,383.0 550.9,383.0 551.2,383.0 551.4,383.0 551.6,383.0 551.8,383.0 552.1,383.0 552.3,383.0 552.5,383.0 552.8,383.0 553.0,383.0 553.2,383.0 553.5,383.0 553.7,383.0 553.9,383.0 554.2,383.0 554.4,383.0 554.6,383.0 554.9,383.0 555.1,383.0 555.3,383.0 555.6,383.0 555.8,383.0 556.0,383.0 556.3,383.0 556.5,383.0 556.7,383.0 557.0,383.0 557.2,383.0 557.4,383.0 557.7,383.0 557.9,383.0 558.1,383.0 558.4,382.9 558.6,382.9 558.8,382.9 559.0,382.9 559.3,382.9 559.5,382.9 559.7,382.9 560.0,382.8 560.2,382.8 560.4,382.8 560.7,382.8 560.9,382.7 561.1,382.7 561.4,382.6 561.6,382.5 561.8,382.4 562.1,382.3 562.3,382.1 562.5,381.8 562.8,381.3 563.0,380.5 563.2,379.3 563.5,377.6 563.7,375.6 563.9,373.3 564.2,371.5 564.4,370.7 564.4,370.7 564.6,371.3 564.9,373.1 565.1,375.3 565.3,377.4 565.5,379.1 565.8,380.4 566.0,381.2 566.2,381.7 566.5,382.1 566.7,382.3 566.9,382.4 567.2,382.5 567.4,382.6 567.6,382.7 567.9,382.7 568.1,382.7 568.3,382.8 568.6,382.8 568.8,382.8 569.0,382.8 569.3,382.9 569.5,382.9 569.7,382.9 570.0,382.9 570.2,382.9 570.4,382.9 570.7,382.9 570.9,382.9 571.1,382.9 571.4,382.9 571.6,382.9 571.8,382.9 572.1,382.9 572.3,382.9 572.5,382.9 572.7,382.9 573.0,382.9 573.2,382.8 573.4,382.8 573.7,382.7 573.9,382.7 574.1,382.6 574.4,382.5 574.6,382.4 574.8,382.2 575.1,382.1 575.3,381.9 575.5,381.8 575.8,381.6 576.0,381.6 576.2,381.5 576.2,381.5 576.5,381.6 576.7,381.7 576.9,381.8 577.2,382.0 577.4,382.1 577.6,382.3 577.9,382.4 578.1,382.5 578.3,382.6 578.6,382.7 578.8,382.8 579.0,382.8 579.2,382.9 579.5,382.9 579.7,382.9 579.9,382.9 580.2,383.0 580.4,383.0 580.6,383.0 580.9,383.0 581.1,383.0 581.3,383.0 581.6,383.0 581.8,383.0 582.0,383.0 582.3,383.0 582.5,383.0 582.7,383.0 583.0,383.0 583.2,383.0 583.4,383.0 583.7,383.0 583.9,383.0 584.1,383.0 584.4,383.0 584.6,383.0 584.8,383.0 585.1,383.0 585.3,383.0 585.5,383.0 585.8,383.0 586.0,383.0 586.2,383.0 586.4,383.0 586.7,383.0 586.9,383.0 587.1,383.0 587.4,383.0 587.6,383.0 587.8,383.0 588.1,383.0 588.3,383.0 588.5,383.0 588.8,383.0 589.0,383.0 589.2,383.0 589.5,383.0 589.7,383.0 589.9,383.0 590.2,383.0 590.4,383.0 590.6,382.9 590.9,382.9 591.1,382.9 591.3,382.9 591.6,382.9 591.8,382.9 592.0,382.9 592.3,382.8 592.5,382.8 592.7,382.7 592.9,382.7 593.2,382.6 593.4,382.4 593.6,382.3 593.9,382.1 594.1,381.8 594.3,381.5 594.6,381.2 594.8,380.8 595.0,380.5 595.3,380.3 595.5,380.1 595.6,380.1 595.7,380.1 596.0,380.3 596.2,380.6 596.4,380.9 596.7,381.2 596.9,381.6 597.1,381.8 597.4,382.1 597.6,382.3 597.8,382.4 598.1,382.6 598.3,382.6 598.5,382.7 598.8,382.8 599.0,382.8 599.2,382.8 599.5,382.8 599.7,382.8 599.9,382.9 600.1,382.9 600.4,382.9 600.6,382.9 600.8,382.9 601.1,382.9 601.3,382.9 601.5,382.9 601.8,382.9 602.0,382.9 602.2,382.9 602.5,382.9 602.7,382.8 602.9,382.8 603.2,382.8 603.4,382.8 603.6,382.8 603.9,382.8 604.1,382.8 604.3,382.8 604.6,382.7 604.8,382.7 605.0,382.7 605.3,382.7 605.5,382.6 605.7,382.6 606.0,382.6 606.2,382.5 606.4,382.5 606.6,382.4 606.9,382.3 607.1,382.2 607.3,382.1 607.6,382.0 607.8,381.8 608.0,381.6 608.3,381.4 608.5,380.9 608.7,380.3 609.0,379.4 609.2,377.9 609.4,375.7 609.7,372.7 609.9,368.9 610.1,364.4 610.4,359.9 610.6,356.5 610.8,355.4 610.8,355.5 611.1,357.2 611.3,361.0 611.5,365.5 611.8,369.9 612.0,373.5 612.2,376.3 612.5,378.3 612.7,379.6 612.9,380.5 613.2,381.0 613.4,381.4 613.6,381.7 613.8,381.9 614.1,382.0 614.3,382.1 614.5,382.2 614.8,382.3 615.0,382.4 615.2,382.4 615.5,382.5 615.7,382.5 615.9,382.6 616.2,382.6 616.4,382.6 616.6,382.7 616.9,382.7 617.1,382.7 617.3,382.7 617.6,382.7 617.8,382.7 618.0,382.7 618.3,382.7 618.5,382.8 618.7,382.8 619.0,382.8 619.2,382.8 619.4,382.8 619.7,382.7 619.9,382.7 620.1,382.7 620.3,382.7 620.6,382.7 620.8,382.7 621.0,382.7 621.3,382.7 621.5,382.6 621.7,382.6 622.0,382.6 622.2,382.5 622.4,382.5 622.7,382.4 622.9,382.3 623.1,382.2 623.4,382.1 623.6,381.9 623.8,381.7 624.1,381.4 624.3,380.9 624.5,380.1 624.8,378.9 625.0,377.2 625.2,374.9 625.5,372.2 625.7,369.1 625.9,366.2 626.2,364.2 626.3,363.8 626.4,364.0 626.6,365.5 626.9,368.3 627.1,371.4 627.3,374.3 627.5,376.7 627.8,378.5 628.0,379.8 628.2,380.7 628.5,381.3 628.7,381.7 628.9,381.9 629.2,382.1 629.4,382.2 629.6,382.3 629.9,382.4 630.1,382.5 630.3,382.6 630.6,382.6 630.8,382.7 631.0,382.7 631.3,382.7 631.5,382.8 631.7,382.8 632.0,382.8 632.2,382.8 632.4,382.8 632.7,382.9 632.9,382.9 633.1,382.9 633.4,382.9 633.6,382.9 633.8,382.9 634.0,382.9 634.3,382.9 634.5,382.9 634.7,382.9 635.0,383.0 635.2,383.0 635.4,383.0 635.7,383.0 635.9,383.0 636.1,383.0 636.4,383.0 636.6,383.0 636.8,383.0 637.1,383.0 637.3,383.0 637.5,383.0 637.8,383.0 638.0,383.0 638.2,383.0 638.5,383.0 638.7,383.0 638.9,383.0 639.2,383.0 639.4,383.0 639.6,383.0 639.9,383.0 640.1,383.0 640.3,383.0 640.6,383.0 640.8,383.0 641.0,383.0 641.2,383.0 641.5,383.0 641.7,383.0 641.9,383.0 642.2,383.0 642.4,383.0 642.6,383.0 642.9,383.0 643.1,383.0 643.3,383.0 643.6,383.0 643.8,383.0 644.0,383.0 644.3,383.0 644.5,383.0 644.7,383.1 645.0,383.1 645.2,383.1 645.4,383.1 645.7,383.1 645.9,383.1 646.1,383.1 646.4,383.1 646.6,383.1 646.8,383.1 647.1,383.1 647.3,383.1 647.5,383.1 647.7,383.1 648.0,383.1 648.2,383.1 648.4,383.1 648.7,383.1 648.9,383.1 649.1,383.1 649.4,383.1 649.6,383.1 649.8,383.1 650.1,383.1 650.3,383.1 650.5,383.1 650.8,383.1 651.0,383.1 651.2,383.1 651.5,383.1 651.7,383.1 651.9,383.1 652.2,383.1 652.4,383.1 652.6,383.1 652.9,383.1 653.1,383.1 653.3,383.1 653.6,383.1 653.8,383.1 654.0,383.1 654.2,383.1 654.5,383.1 654.7,383.1 654.9,383.1 655.2,383.1 655.4,383.1 655.6,383.1 655.9,383.1 656.1,383.1 656.3,383.1 656.6,383.1 656.8,383.1 657.0,383.1 657.3,383.1 657.5,383.1 657.7,383.1 658.0,383.1 658.2,383.1 658.4,383.0 658.7,383.0 658.9,383.0 659.1,383.0 659.4,383.0 659.6,383.0 659.8,383.0 660.1,383.0 660.3,383.0 660.5,383.0 660.8,383.0 661.0,383.0 661.2,383.0 661.4,383.0 661.7,383.0 661.9,383.0 662.1,383.0 662.4,383.0 662.6,383.0 662.8,383.0 663.1,383.0 663.3,383.0 663.5,383.0 663.8,383.0 664.0,383.0 664.2,383.0 664.5,382.9 664.7,382.9 664.9,382.9 665.2,382.9 665.4,382.8 665.6,382.8 665.9,382.7 666.1,382.7 666.3,382.6 666.6,382.4 666.8,382.3 667.0,382.1 667.3,381.9 667.5,381.6 667.7,381.4 667.9,381.1 668.2,380.9 668.4,380.7 668.6,380.7 668.7,380.7 668.9,380.7 669.1,380.8 669.3,381.0 669.6,381.3 669.8,381.5 670.0,381.7 670.3,382.0 670.5,382.2 670.7,382.3 671.0,382.5 671.2,382.6 671.4,382.7 671.7,382.8 671.9,382.8 672.1,382.8 672.4,382.9 672.6,382.9 672.8,382.9 673.1,382.9 673.3,382.9 673.5,382.9 673.8,383.0 674.0,383.0 674.2,383.0 674.5,383.0 674.7,383.0 674.9,383.0 675.1,383.0 675.4,383.0 675.6,383.0 675.8,383.0 676.1,383.0 676.3,383.0 676.5,383.0 676.8,383.0 677.0,383.0 677.2,383.0 677.5,383.0 677.7,383.0 677.9,383.0 678.2,383.0 678.4,383.0 678.6,383.0 678.9,383.0 679.1,383.0 679.3,382.9 679.6,382.9 679.8,382.9 680.0,382.9 680.3,382.9 680.5,382.9 680.7,382.9 681.0,382.9 681.2,382.9 681.4,382.8 681.6,382.8 681.9,382.8 682.1,382.8 682.3,382.8 682.6,382.7 682.8,382.7 683.0,382.6 683.3,382.6 683.5,382.5 683.7,382.5 684.0,382.4 684.2,382.3 684.4,382.1 684.7,381.9 684.9,381.5 685.1,381.0 685.4,380.3 685.6,379.2 685.8,377.9 686.1,376.1 686.3,374.2 686.5,372.1 686.8,370.4 687.0,369.3 687.1,369.2 687.2,369.3 687.5,370.4 687.7,372.2 687.9,374.3 688.2,376.2 688.4,377.9 688.6,379.3 688.8,380.3 689.1,381.0 689.3,381.5 689.5,381.9 689.8,382.1 690.0,382.2 690.2,382.3 690.5,382.4 690.7,382.5 690.9,382.5 691.2,382.6 691.4,382.6 691.6,382.6 691.9,382.7 692.1,382.7 692.3,382.7 692.6,382.7 692.8,382.7 693.0,382.7 693.3,382.7 693.5,382.7 693.7,382.7 694.0,382.7 694.2,382.7 694.4,382.7 694.7,382.7 694.9,382.7 695.1,382.6 695.3,382.6 695.6,382.6 695.8,382.5 696.0,382.5 696.3,382.4 696.5,382.3 696.7,382.2 697.0,382.1 697.2,382.0 697.4,381.9 697.7,381.8 697.9,381.7 698.1,381.6 698.2,381.6 698.4,381.6 698.6,381.7 698.8,381.8 699.1,381.9 699.3,382.0 699.5,382.1 699.8,382.2 700.0,382.3 700.2,382.3 700.5,382.4 700.7,382.4 700.9,382.5 701.2,382.5 701.4,382.5 701.6,382.5 701.9,382.5 702.1,382.5 702.3,382.5 702.5,382.5 702.8,382.5 703.0,382.5 703.2,382.5 703.5,382.5 703.7,382.5 703.9,382.5 704.2,382.5 704.4,382.5 704.6,382.4 704.9,382.4 705.1,382.4 705.3,382.4 705.6,382.4 705.8,382.4 706.0,382.3 706.3,382.3 706.5,382.3 706.7,382.3 707.0,382.3 707.2,382.2 707.4,382.2 707.7,382.2 707.9,382.2 708.1,382.1 708.4,382.1 708.6,382.1 708.8,382.1 709.0,382.1 709.3,382.0 709.5,382.0 709.7,382.0 710.0,382.0 710.2,382.0 710.4,381.9 710.7,381.9 710.9,381.9 711.1,381.9 711.4,381.9 711.6,381.8 711.8,381.8 712.1,381.8 712.3,381.8"/>
<g stroke="#000" stroke-width="2.6" stroke-linecap="round">
<line x1="122.3" y1="491.9" x2="131.8" y2="491.9"/><line x1="127.5" y1="465.5" x2="131.8" y2="465.5"/><line x1="122.3" y1="439.0" x2="131.8" y2="439.0"/><line x1="127.5" y1="412.6" x2="131.8" y2="412.6"/><line x1="122.3" y1="386.2" x2="131.8" y2="386.2"/><line x1="127.5" y1="359.8" x2="131.8" y2="359.8"/><line x1="122.3" y1="333.4" x2="131.8" y2="333.4"/><line x1="127.5" y1="306.9" x2="131.8" y2="306.9"/><line x1="122.3" y1="280.5" x2="131.8" y2="280.5"/><line x1="127.5" y1="254.1" x2="131.8" y2="254.1"/><line x1="122.3" y1="227.7" x2="131.8" y2="227.7"/><line x1="127.5" y1="201.3" x2="131.8" y2="201.3"/><line x1="122.3" y1="174.8" x2="131.8" y2="174.8"/><line x1="127.5" y1="148.4" x2="131.8" y2="148.4"/><line x1="122.3" y1="122.0" x2="131.8" y2="122.0"/><line x1="127.5" y1="95.6" x2="131.8" y2="95.6"/><line x1="122.3" y1="69.2" x2="131.8" y2="69.2"/><line x1="127.5" y1="42.7" x2="131.8" y2="42.7"/><line x1="122.3" y1="16.3" x2="131.8" y2="16.3"/><line x1="131.8" y1="491.9" x2="131.8" y2="501.5"/><line x1="189.9" y1="491.9" x2="189.9" y2="496.8"/><line x1="247.9" y1="491.9" x2="247.9" y2="501.5"/><line x1="305.9" y1="491.9" x2="305.9" y2="496.8"/><line x1="364.0" y1="491.9" x2="364.0" y2="501.5"/><line x1="422.1" y1="491.9" x2="422.1" y2="496.8"/><line x1="480.1" y1="491.9" x2="480.1" y2="501.5"/><line x1="538.1" y1="491.9" x2="538.1" y2="496.8"/><line x1="596.2" y1="491.9" x2="596.2" y2="501.5"/><line x1="654.2" y1="491.9" x2="654.2" y2="496.8"/><line x1="712.3" y1="491.9" x2="712.3" y2="501.5"/><line x1="770.3" y1="491.9" x2="770.3" y2="496.8"/>
</g>
<rect x="131.8" y="16.3" width="638.5" height="475.6" fill="none" stroke="#000" stroke-width="2.8"/>
<g class="ser"><g transform="translate(118,502.8) scale(0.865,1)"><text text-anchor="end">2000</text></g><rect x="47.2" y="491.53" width="12.3" height="1.3" fill="#000"/><g transform="translate(118,449.9) scale(0.865,1)"><text text-anchor="end">1000</text></g><rect x="47.2" y="438.69" width="12.3" height="1.3" fill="#000"/><g transform="translate(118,397.1) scale(0.865,1)"><text text-anchor="end">0</text></g><g transform="translate(118,344.3) scale(0.865,1)"><text text-anchor="end">1000</text></g><g transform="translate(118,291.4) scale(0.865,1)"><text text-anchor="end">2000</text></g><g transform="translate(118,238.6) scale(0.865,1)"><text text-anchor="end">3000</text></g><g transform="translate(118,185.7) scale(0.865,1)"><text text-anchor="end">4000</text></g><g transform="translate(118,132.9) scale(0.865,1)"><text text-anchor="end">5000</text></g><g transform="translate(118,80.1) scale(0.865,1)"><text text-anchor="end">6000</text></g><g transform="translate(118,27.2) scale(0.865,1)"><text text-anchor="end">7000</text></g><g transform="translate(132.7,531.5) scale(0.865,1)"><text text-anchor="middle">0</text></g><g transform="translate(248.8,531.5) scale(0.865,1)"><text text-anchor="middle">20</text></g><g transform="translate(364.9,531.5) scale(0.865,1)"><text text-anchor="middle">40</text></g><g transform="translate(481.0,531.5) scale(0.865,1)"><text text-anchor="middle">60</text></g><g transform="translate(597.1,531.5) scale(0.865,1)"><text text-anchor="middle">80</text></g><g transform="translate(712.8,531.5) scale(0.865,1)"><text text-anchor="middle">100</text></g></g>
<g class="sb" font-size="19" stroke="#fff" stroke-width="0.15"><text transform="translate(314.8,62.7) rotate(-90) scale(0.96,1)">(222)</text><text transform="translate(346.0,267.6) rotate(-90) scale(0.96,1)">(400)</text><text transform="translate(433.6,226.8) rotate(-90) scale(0.96,1)">(400)</text><text transform="translate(490.4,234.2) rotate(-90) scale(0.96,1)">(622)</text><text transform="translate(508.0,348.0) rotate(-90) scale(0.96,1)">(444)</text><text transform="translate(572.1,353.1) rotate(-90) scale(0.96,1)">(800)</text><text transform="translate(618.7,294.3) rotate(-90) scale(0.96,1)">(662)</text><text transform="translate(635.7,341.3) rotate(-90) scale(0.96,1)">(840)</text><text transform="translate(693.3,345.6) rotate(-90) scale(0.96,1)">(844)</text></g>
<g class="sb" font-size="23.2" stroke="#fff" stroke-width="0.2">
<text transform="translate(518.6,56.2) scale(0.948,1)">Difference</text>
<text transform="translate(518.6,83.9) scale(0.948,1)">Experiment</text>
<text transform="translate(518.6,111.6) scale(0.948,1)">Observed reflection</text>
<text transform="translate(518.6,139.3) scale(0.948,1)">Simulation</text>
</g>
<line x1="453.8" y1="48.3" x2="511.7" y2="48.3" stroke="#666" stroke-width="1"/>
<line x1="453.8" y1="76.2" x2="509" y2="76.2" stroke="#ff3030" stroke-width="1" stroke-dasharray="1 2.8" opacity="0.8"/>
<line x1="453.8" y1="103.8" x2="511.7" y2="103.8" stroke="#00ff00" stroke-width="1" stroke-dasharray="2.6 0.9 0.8 0.7" opacity="0.5"/>
<line x1="453.8" y1="131.5" x2="511.7" y2="131.5" stroke="#3030ff" stroke-width="1" opacity="0.75"/>
<text class="sb" font-size="27.2" stroke="#fff" stroke-width="0.2" transform="translate(451.3,570) scale(0.956,1)" text-anchor="middle">2 theta (degree)</text>
<text class="sb" font-size="27.2" stroke="#fff" stroke-width="0.2" transform="translate(28.3,271.7) rotate(-90) scale(0.956,1)" text-anchor="middle">Intensity (a.u)</text>
</svg>
</body></html>
